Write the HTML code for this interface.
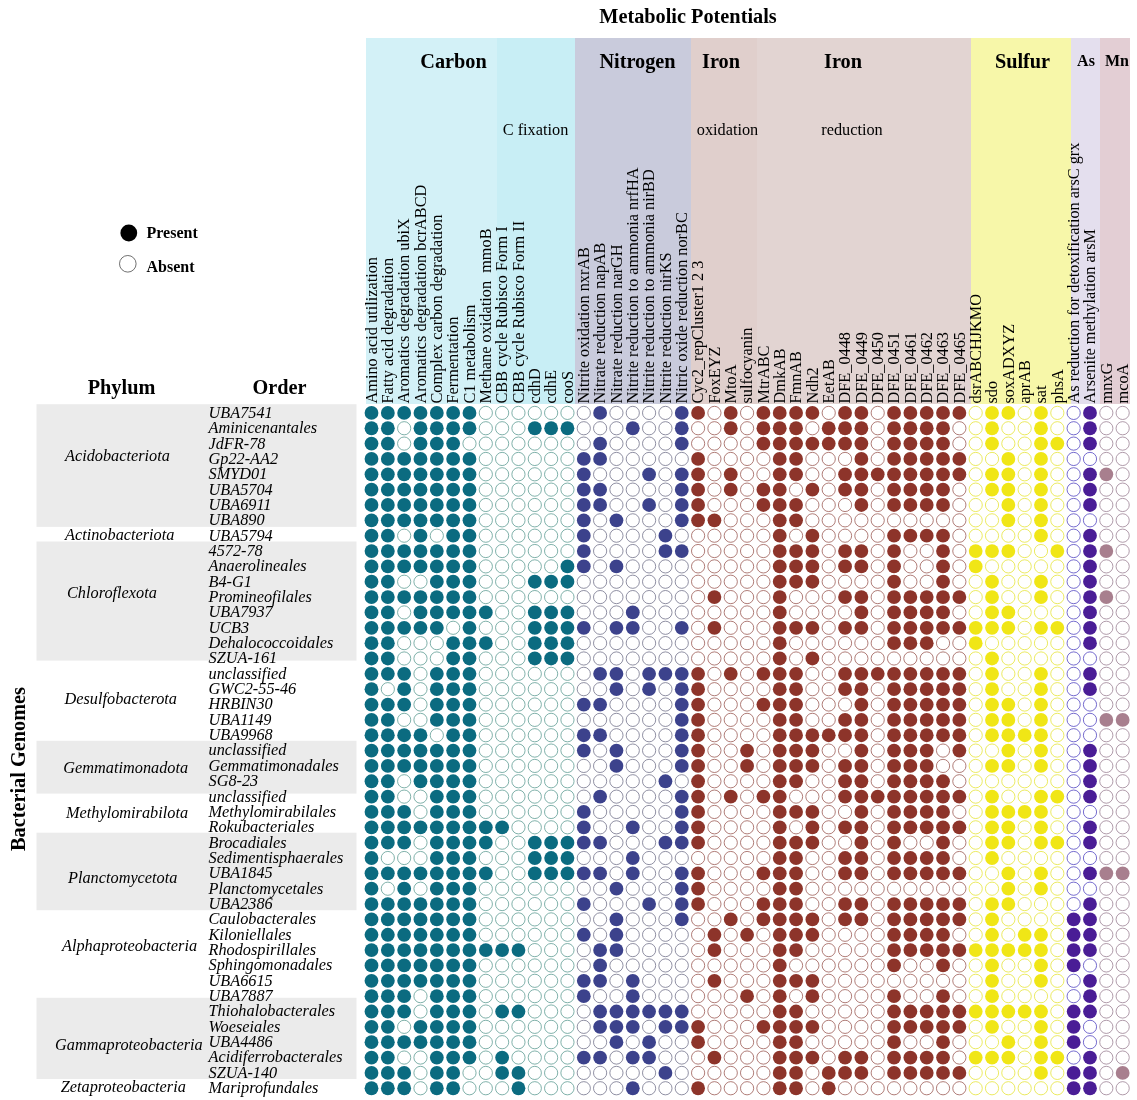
<!DOCTYPE html>
<html><head><meta charset="utf-8"><title>Metabolic Potentials</title>
<style>
html,body{margin:0;padding:0;background:#fff}
svg{display:block}
text{font-family:"Liberation Serif","Times New Roman",serif;fill:#000}
.b{font-weight:bold}
.i{font-style:italic;font-size:16.3px}
.c{font-size:16.3px}
.h{font-weight:bold;font-size:20.3px}
</style></head><body>
<svg width="1137" height="1100" viewBox="0 0 1137 1100">
<rect width="1137" height="1100" fill="#fff"/>

<rect x="366" y="38" width="131" height="366" fill="#d3f1f7"/>
<rect x="497" y="38" width="78" height="366" fill="#c8eef5"/>
<rect x="575" y="38" width="116" height="366" fill="#c9cbdc"/>
<rect x="691" y="38" width="66" height="366" fill="#e0cfcc"/>
<rect x="757" y="38" width="214" height="366" fill="#e2d4d2"/>
<rect x="971" y="38" width="100" height="366" fill="#f7f7a9"/>
<rect x="1071" y="38" width="29" height="366" fill="#e4dfee"/>
<rect x="1100" y="38" width="30" height="366" fill="#e3ced4"/>
<rect x="36.5" y="404.2" width="320" height="122.7" fill="#ebebeb"/>
<rect x="36.5" y="541.5" width="320" height="119.1" fill="#ebebeb"/>
<rect x="36.5" y="740.8" width="320" height="52.8" fill="#ebebeb"/>
<rect x="36.5" y="832.7" width="320" height="77.5" fill="#ebebeb"/>
<rect x="36.5" y="997.8" width="320" height="81.2" fill="#ebebeb"/>
<text class="h" x="688" y="23" text-anchor="middle">Metabolic Potentials</text>
<text class="h" x="453.5" y="67.5" text-anchor="middle">Carbon</text>
<text class="h" x="637.5" y="67.5" text-anchor="middle">Nitrogen</text>
<text class="h" x="721" y="67.5" text-anchor="middle">Iron</text>
<text class="h" x="843" y="67.5" text-anchor="middle">Iron</text>
<text class="h" x="1022.5" y="67.5" text-anchor="middle">Sulfur</text>
<text class="b" font-size="16" x="1086" y="66" text-anchor="middle">As</text>
<text class="b" font-size="16" x="1117" y="66" text-anchor="middle">Mn</text>
<text class="c" x="535.5" y="135" text-anchor="middle">C fixation</text>
<text class="c" x="727.5" y="135" text-anchor="middle">oxidation</text>
<text class="c" x="852" y="135" text-anchor="middle">reduction</text>
<circle cx="128.8" cy="233" r="8.4" fill="#000"/>
<circle cx="127.8" cy="263.8" r="8.3" fill="#fff" stroke="#333" stroke-width="0.7"/>
<text class="b" font-size="16" x="146.5" y="238.2">Present</text>
<text class="b" font-size="16" x="146.5" y="271.5">Absent</text>
<text class="h" x="121.5" y="394" text-anchor="middle">Phylum</text>
<text class="h" x="279.5" y="394" text-anchor="middle">Order</text>
<text class="h" transform="translate(25,769) rotate(-90)" text-anchor="middle">Bacterial Genomes</text>
<text class="c" transform="translate(376.70,403.5) rotate(-90)">Amino acid utilization</text>
<text class="c" transform="translate(393.03,403.5) rotate(-90)">Fatty acid degradation</text>
<text class="c" transform="translate(409.36,403.5) rotate(-90)">Aromatics degradation ubiX</text>
<text class="c" transform="translate(425.69,403.5) rotate(-90)">Aromatics degradation bcrABCD</text>
<text class="c" transform="translate(442.02,403.5) rotate(-90)">Complex carbon degradation</text>
<text class="c" transform="translate(458.35,403.5) rotate(-90)">Fermentation</text>
<text class="c" transform="translate(474.68,403.5) rotate(-90)">C1 metabolism</text>
<text class="c" transform="translate(491.01,403.5) rotate(-90)">Methane oxidation  mmoB</text>
<text class="c" transform="translate(507.33,403.5) rotate(-90)">CBB cycle Rubisco Form I</text>
<text class="c" transform="translate(523.66,403.5) rotate(-90)">CBB cycle Rubisco Form II</text>
<text class="c" transform="translate(539.99,403.5) rotate(-90)">cdhD</text>
<text class="c" transform="translate(556.32,403.5) rotate(-90)">cdhE</text>
<text class="c" transform="translate(572.65,403.5) rotate(-90)">cooS</text>
<text class="c" transform="translate(588.98,403.5) rotate(-90)">Nitrite oxidation nxrAB</text>
<text class="c" transform="translate(605.31,403.5) rotate(-90)">Nitrate reduction napAB</text>
<text class="c" transform="translate(621.64,403.5) rotate(-90)">Nitrate reduction narGH</text>
<text class="c" transform="translate(637.97,403.5) rotate(-90)">Nitrite reduction to ammonia nrfHA</text>
<text class="c" transform="translate(654.30,403.5) rotate(-90)">Nitrite reduction to ammonia nirBD</text>
<text class="c" transform="translate(670.63,403.5) rotate(-90)">Nitrite reduction nirKS</text>
<text class="c" transform="translate(686.96,403.5) rotate(-90)">Nitric oxide reduction norBC</text>
<text class="c" transform="translate(703.29,403.5) rotate(-90)">Cyc2_repCluster1 2 3</text>
<text class="c" transform="translate(719.62,403.5) rotate(-90)">FoxEYZ</text>
<text class="c" transform="translate(735.95,403.5) rotate(-90)">MtoA</text>
<text class="c" transform="translate(752.28,403.5) rotate(-90)">sulfocyanin</text>
<text class="c" transform="translate(768.60,403.5) rotate(-90)">MtrABC</text>
<text class="c" transform="translate(784.93,403.5) rotate(-90)">DmkAB</text>
<text class="c" transform="translate(801.26,403.5) rotate(-90)">FmnAB</text>
<text class="c" transform="translate(817.59,403.5) rotate(-90)">Ndh2</text>
<text class="c" transform="translate(833.92,403.5) rotate(-90)">EetAB</text>
<text class="c" transform="translate(850.25,403.5) rotate(-90)">DFE_0448</text>
<text class="c" transform="translate(866.58,403.5) rotate(-90)">DFE_0449</text>
<text class="c" transform="translate(882.91,403.5) rotate(-90)">DFE_0450</text>
<text class="c" transform="translate(899.24,403.5) rotate(-90)">DFE_0451</text>
<text class="c" transform="translate(915.57,403.5) rotate(-90)">DFE_0461</text>
<text class="c" transform="translate(931.90,403.5) rotate(-90)">DFE_0462</text>
<text class="c" transform="translate(948.23,403.5) rotate(-90)">DFE_0463</text>
<text class="c" transform="translate(964.56,403.5) rotate(-90)">DFE_0465</text>
<text class="c" transform="translate(980.89,403.5) rotate(-90)">dsrABCHJKMO</text>
<text class="c" transform="translate(997.22,403.5) rotate(-90)">sdo</text>
<text class="c" transform="translate(1013.54,403.5) rotate(-90)">soxADXYZ</text>
<text class="c" transform="translate(1029.87,403.5) rotate(-90)">aprAB</text>
<text class="c" transform="translate(1046.20,403.5) rotate(-90)">sat</text>
<text class="c" transform="translate(1062.53,403.5) rotate(-90)">phsA</text>
<text class="c" transform="translate(1078.86,403.5) rotate(-90)">As reduction for detoxification arsC grx</text>
<text class="c" transform="translate(1095.19,403.5) rotate(-90)">Arsenite methylation arsM</text>
<text class="c" transform="translate(1111.52,403.5) rotate(-90)">mnxG</text>
<text class="c" transform="translate(1127.85,403.5) rotate(-90)">mcoA</text>
<text class="i" x="208.5" y="417.80">UBA7541</text>
<text class="i" x="208.5" y="433.15">Aminicenantales</text>
<text class="i" x="208.5" y="448.50">JdFR-78</text>
<text class="i" x="208.5" y="463.85">Gp22-AA2</text>
<text class="i" x="208.5" y="479.20">SMYD01</text>
<text class="i" x="208.5" y="494.54">UBA5704</text>
<text class="i" x="208.5" y="509.89">UBA6911</text>
<text class="i" x="208.5" y="525.24">UBA890</text>
<text class="i" x="208.5" y="540.59">UBA5794</text>
<text class="i" x="208.5" y="555.94">4572-78</text>
<text class="i" x="208.5" y="571.29">Anaerolineales</text>
<text class="i" x="208.5" y="586.64">B4-G1</text>
<text class="i" x="208.5" y="601.99">Promineofilales</text>
<text class="i" x="208.5" y="617.34">UBA7937</text>
<text class="i" x="208.5" y="632.68">UCB3</text>
<text class="i" x="208.5" y="648.03">Dehalococcoidales</text>
<text class="i" x="208.5" y="663.38">SZUA-161</text>
<text class="i" x="208.5" y="678.73">unclassified</text>
<text class="i" x="208.5" y="694.08">GWC2-55-46</text>
<text class="i" x="208.5" y="709.43">HRBIN30</text>
<text class="i" x="208.5" y="724.78">UBA1149</text>
<text class="i" x="208.5" y="740.13">UBA9968</text>
<text class="i" x="208.5" y="755.48">unclassified</text>
<text class="i" x="208.5" y="770.82">Gemmatimonadales</text>
<text class="i" x="208.5" y="786.17">SG8-23</text>
<text class="i" x="208.5" y="801.52">unclassified</text>
<text class="i" x="208.5" y="816.87">Methylomirabilales</text>
<text class="i" x="208.5" y="832.22">Rokubacteriales</text>
<text class="i" x="208.5" y="847.57">Brocadiales</text>
<text class="i" x="208.5" y="862.92">Sedimentisphaerales</text>
<text class="i" x="208.5" y="878.27">UBA1845</text>
<text class="i" x="208.5" y="893.61">Planctomycetales</text>
<text class="i" x="208.5" y="908.96">UBA2386</text>
<text class="i" x="208.5" y="924.31">Caulobacterales</text>
<text class="i" x="208.5" y="939.66">Kiloniellales</text>
<text class="i" x="208.5" y="955.01">Rhodospirillales</text>
<text class="i" x="208.5" y="970.36">Sphingomonadales</text>
<text class="i" x="208.5" y="985.71">UBA6615</text>
<text class="i" x="208.5" y="1001.06">UBA7887</text>
<text class="i" x="208.5" y="1016.41">Thiohalobacterales</text>
<text class="i" x="208.5" y="1031.75">Woeseiales</text>
<text class="i" x="208.5" y="1047.10">UBA4486</text>
<text class="i" x="208.5" y="1062.45">Acidiferrobacterales</text>
<text class="i" x="208.5" y="1077.80">SZUA-140</text>
<text class="i" x="208.5" y="1093.15">Mariprofundales</text>
<text class="i" x="65" y="461.1">Acidobacteriota</text>
<text class="i" x="65" y="539.9">Actinobacteriota</text>
<text class="i" x="67" y="597.8">Chloroflexota</text>
<text class="i" x="64.5" y="704.4">Desulfobacterota</text>
<text class="i" x="63.3" y="772.7">Gemmatimonadota</text>
<text class="i" x="66" y="817.6">Methylomirabilota</text>
<text class="i" x="68" y="882.8">Planctomycetota</text>
<text class="i" x="62" y="951">Alphaproteobacteria</text>
<text class="i" x="55" y="1050">Gammaproteobacteria</text>
<text class="i" x="60.7" y="1092.4">Zetaproteobacteria</text>
<g fill="#0b6b80"><circle cx="371.50" cy="412.90" r="6.9"/><circle cx="387.83" cy="412.90" r="6.9"/><circle cx="404.16" cy="412.90" r="6.9"/><circle cx="420.49" cy="412.90" r="6.9"/><circle cx="436.82" cy="412.90" r="6.9"/><circle cx="453.15" cy="412.90" r="6.9"/><circle cx="469.48" cy="412.90" r="6.9"/><circle cx="371.50" cy="428.25" r="6.9"/><circle cx="387.83" cy="428.25" r="6.9"/><circle cx="420.49" cy="428.25" r="6.9"/><circle cx="436.82" cy="428.25" r="6.9"/><circle cx="453.15" cy="428.25" r="6.9"/><circle cx="469.48" cy="428.25" r="6.9"/><circle cx="534.79" cy="428.25" r="6.9"/><circle cx="551.12" cy="428.25" r="6.9"/><circle cx="567.45" cy="428.25" r="6.9"/><circle cx="371.50" cy="443.60" r="6.9"/><circle cx="387.83" cy="443.60" r="6.9"/><circle cx="420.49" cy="443.60" r="6.9"/><circle cx="436.82" cy="443.60" r="6.9"/><circle cx="453.15" cy="443.60" r="6.9"/><circle cx="371.50" cy="458.95" r="6.9"/><circle cx="387.83" cy="458.95" r="6.9"/><circle cx="404.16" cy="458.95" r="6.9"/><circle cx="420.49" cy="458.95" r="6.9"/><circle cx="436.82" cy="458.95" r="6.9"/><circle cx="453.15" cy="458.95" r="6.9"/><circle cx="469.48" cy="458.95" r="6.9"/><circle cx="371.50" cy="474.30" r="6.9"/><circle cx="387.83" cy="474.30" r="6.9"/><circle cx="404.16" cy="474.30" r="6.9"/><circle cx="420.49" cy="474.30" r="6.9"/><circle cx="436.82" cy="474.30" r="6.9"/><circle cx="453.15" cy="474.30" r="6.9"/><circle cx="469.48" cy="474.30" r="6.9"/><circle cx="371.50" cy="489.64" r="6.9"/><circle cx="387.83" cy="489.64" r="6.9"/><circle cx="404.16" cy="489.64" r="6.9"/><circle cx="420.49" cy="489.64" r="6.9"/><circle cx="436.82" cy="489.64" r="6.9"/><circle cx="453.15" cy="489.64" r="6.9"/><circle cx="469.48" cy="489.64" r="6.9"/><circle cx="371.50" cy="504.99" r="6.9"/><circle cx="387.83" cy="504.99" r="6.9"/><circle cx="404.16" cy="504.99" r="6.9"/><circle cx="420.49" cy="504.99" r="6.9"/><circle cx="436.82" cy="504.99" r="6.9"/><circle cx="453.15" cy="504.99" r="6.9"/><circle cx="469.48" cy="504.99" r="6.9"/><circle cx="371.50" cy="520.34" r="6.9"/><circle cx="387.83" cy="520.34" r="6.9"/><circle cx="404.16" cy="520.34" r="6.9"/><circle cx="420.49" cy="520.34" r="6.9"/><circle cx="436.82" cy="520.34" r="6.9"/><circle cx="453.15" cy="520.34" r="6.9"/><circle cx="469.48" cy="520.34" r="6.9"/><circle cx="371.50" cy="535.69" r="6.9"/><circle cx="387.83" cy="535.69" r="6.9"/><circle cx="420.49" cy="535.69" r="6.9"/><circle cx="453.15" cy="535.69" r="6.9"/><circle cx="469.48" cy="535.69" r="6.9"/><circle cx="371.50" cy="551.04" r="6.9"/><circle cx="387.83" cy="551.04" r="6.9"/><circle cx="404.16" cy="551.04" r="6.9"/><circle cx="420.49" cy="551.04" r="6.9"/><circle cx="436.82" cy="551.04" r="6.9"/><circle cx="453.15" cy="551.04" r="6.9"/><circle cx="469.48" cy="551.04" r="6.9"/><circle cx="371.50" cy="566.39" r="6.9"/><circle cx="387.83" cy="566.39" r="6.9"/><circle cx="404.16" cy="566.39" r="6.9"/><circle cx="420.49" cy="566.39" r="6.9"/><circle cx="436.82" cy="566.39" r="6.9"/><circle cx="453.15" cy="566.39" r="6.9"/><circle cx="469.48" cy="566.39" r="6.9"/><circle cx="567.45" cy="566.39" r="6.9"/><circle cx="371.50" cy="581.74" r="6.9"/><circle cx="387.83" cy="581.74" r="6.9"/><circle cx="436.82" cy="581.74" r="6.9"/><circle cx="453.15" cy="581.74" r="6.9"/><circle cx="469.48" cy="581.74" r="6.9"/><circle cx="534.79" cy="581.74" r="6.9"/><circle cx="551.12" cy="581.74" r="6.9"/><circle cx="567.45" cy="581.74" r="6.9"/><circle cx="371.50" cy="597.09" r="6.9"/><circle cx="387.83" cy="597.09" r="6.9"/><circle cx="404.16" cy="597.09" r="6.9"/><circle cx="420.49" cy="597.09" r="6.9"/><circle cx="436.82" cy="597.09" r="6.9"/><circle cx="453.15" cy="597.09" r="6.9"/><circle cx="469.48" cy="597.09" r="6.9"/><circle cx="371.50" cy="612.44" r="6.9"/><circle cx="387.83" cy="612.44" r="6.9"/><circle cx="420.49" cy="612.44" r="6.9"/><circle cx="436.82" cy="612.44" r="6.9"/><circle cx="453.15" cy="612.44" r="6.9"/><circle cx="469.48" cy="612.44" r="6.9"/><circle cx="485.81" cy="612.44" r="6.9"/><circle cx="534.79" cy="612.44" r="6.9"/><circle cx="551.12" cy="612.44" r="6.9"/><circle cx="567.45" cy="612.44" r="6.9"/><circle cx="371.50" cy="627.78" r="6.9"/><circle cx="387.83" cy="627.78" r="6.9"/><circle cx="404.16" cy="627.78" r="6.9"/><circle cx="420.49" cy="627.78" r="6.9"/><circle cx="436.82" cy="627.78" r="6.9"/><circle cx="469.48" cy="627.78" r="6.9"/><circle cx="534.79" cy="627.78" r="6.9"/><circle cx="551.12" cy="627.78" r="6.9"/><circle cx="567.45" cy="627.78" r="6.9"/><circle cx="371.50" cy="643.13" r="6.9"/><circle cx="387.83" cy="643.13" r="6.9"/><circle cx="453.15" cy="643.13" r="6.9"/><circle cx="469.48" cy="643.13" r="6.9"/><circle cx="485.81" cy="643.13" r="6.9"/><circle cx="534.79" cy="643.13" r="6.9"/><circle cx="551.12" cy="643.13" r="6.9"/><circle cx="567.45" cy="643.13" r="6.9"/><circle cx="371.50" cy="658.48" r="6.9"/><circle cx="387.83" cy="658.48" r="6.9"/><circle cx="453.15" cy="658.48" r="6.9"/><circle cx="469.48" cy="658.48" r="6.9"/><circle cx="534.79" cy="658.48" r="6.9"/><circle cx="551.12" cy="658.48" r="6.9"/><circle cx="567.45" cy="658.48" r="6.9"/><circle cx="371.50" cy="673.83" r="6.9"/><circle cx="387.83" cy="673.83" r="6.9"/><circle cx="404.16" cy="673.83" r="6.9"/><circle cx="436.82" cy="673.83" r="6.9"/><circle cx="453.15" cy="673.83" r="6.9"/><circle cx="469.48" cy="673.83" r="6.9"/><circle cx="371.50" cy="689.18" r="6.9"/><circle cx="404.16" cy="689.18" r="6.9"/><circle cx="436.82" cy="689.18" r="6.9"/><circle cx="453.15" cy="689.18" r="6.9"/><circle cx="469.48" cy="689.18" r="6.9"/><circle cx="371.50" cy="704.53" r="6.9"/><circle cx="387.83" cy="704.53" r="6.9"/><circle cx="404.16" cy="704.53" r="6.9"/><circle cx="436.82" cy="704.53" r="6.9"/><circle cx="453.15" cy="704.53" r="6.9"/><circle cx="469.48" cy="704.53" r="6.9"/><circle cx="371.50" cy="719.88" r="6.9"/><circle cx="387.83" cy="719.88" r="6.9"/><circle cx="436.82" cy="719.88" r="6.9"/><circle cx="453.15" cy="719.88" r="6.9"/><circle cx="469.48" cy="719.88" r="6.9"/><circle cx="371.50" cy="735.23" r="6.9"/><circle cx="387.83" cy="735.23" r="6.9"/><circle cx="404.16" cy="735.23" r="6.9"/><circle cx="420.49" cy="735.23" r="6.9"/><circle cx="453.15" cy="735.23" r="6.9"/><circle cx="469.48" cy="735.23" r="6.9"/><circle cx="371.50" cy="750.58" r="6.9"/><circle cx="387.83" cy="750.58" r="6.9"/><circle cx="404.16" cy="750.58" r="6.9"/><circle cx="420.49" cy="750.58" r="6.9"/><circle cx="436.82" cy="750.58" r="6.9"/><circle cx="453.15" cy="750.58" r="6.9"/><circle cx="469.48" cy="750.58" r="6.9"/><circle cx="371.50" cy="765.92" r="6.9"/><circle cx="387.83" cy="765.92" r="6.9"/><circle cx="404.16" cy="765.92" r="6.9"/><circle cx="420.49" cy="765.92" r="6.9"/><circle cx="436.82" cy="765.92" r="6.9"/><circle cx="453.15" cy="765.92" r="6.9"/><circle cx="469.48" cy="765.92" r="6.9"/><circle cx="371.50" cy="781.27" r="6.9"/><circle cx="387.83" cy="781.27" r="6.9"/><circle cx="420.49" cy="781.27" r="6.9"/><circle cx="436.82" cy="781.27" r="6.9"/><circle cx="453.15" cy="781.27" r="6.9"/><circle cx="469.48" cy="781.27" r="6.9"/><circle cx="371.50" cy="796.62" r="6.9"/><circle cx="387.83" cy="796.62" r="6.9"/><circle cx="436.82" cy="796.62" r="6.9"/><circle cx="453.15" cy="796.62" r="6.9"/><circle cx="469.48" cy="796.62" r="6.9"/><circle cx="371.50" cy="811.97" r="6.9"/><circle cx="387.83" cy="811.97" r="6.9"/><circle cx="404.16" cy="811.97" r="6.9"/><circle cx="436.82" cy="811.97" r="6.9"/><circle cx="453.15" cy="811.97" r="6.9"/><circle cx="469.48" cy="811.97" r="6.9"/><circle cx="371.50" cy="827.32" r="6.9"/><circle cx="387.83" cy="827.32" r="6.9"/><circle cx="404.16" cy="827.32" r="6.9"/><circle cx="420.49" cy="827.32" r="6.9"/><circle cx="436.82" cy="827.32" r="6.9"/><circle cx="453.15" cy="827.32" r="6.9"/><circle cx="469.48" cy="827.32" r="6.9"/><circle cx="485.81" cy="827.32" r="6.9"/><circle cx="502.13" cy="827.32" r="6.9"/><circle cx="371.50" cy="842.67" r="6.9"/><circle cx="387.83" cy="842.67" r="6.9"/><circle cx="404.16" cy="842.67" r="6.9"/><circle cx="436.82" cy="842.67" r="6.9"/><circle cx="453.15" cy="842.67" r="6.9"/><circle cx="469.48" cy="842.67" r="6.9"/><circle cx="485.81" cy="842.67" r="6.9"/><circle cx="534.79" cy="842.67" r="6.9"/><circle cx="551.12" cy="842.67" r="6.9"/><circle cx="567.45" cy="842.67" r="6.9"/><circle cx="371.50" cy="858.02" r="6.9"/><circle cx="436.82" cy="858.02" r="6.9"/><circle cx="453.15" cy="858.02" r="6.9"/><circle cx="469.48" cy="858.02" r="6.9"/><circle cx="534.79" cy="858.02" r="6.9"/><circle cx="551.12" cy="858.02" r="6.9"/><circle cx="567.45" cy="858.02" r="6.9"/><circle cx="371.50" cy="873.37" r="6.9"/><circle cx="387.83" cy="873.37" r="6.9"/><circle cx="404.16" cy="873.37" r="6.9"/><circle cx="420.49" cy="873.37" r="6.9"/><circle cx="436.82" cy="873.37" r="6.9"/><circle cx="453.15" cy="873.37" r="6.9"/><circle cx="469.48" cy="873.37" r="6.9"/><circle cx="485.81" cy="873.37" r="6.9"/><circle cx="534.79" cy="873.37" r="6.9"/><circle cx="551.12" cy="873.37" r="6.9"/><circle cx="567.45" cy="873.37" r="6.9"/><circle cx="371.50" cy="888.71" r="6.9"/><circle cx="404.16" cy="888.71" r="6.9"/><circle cx="436.82" cy="888.71" r="6.9"/><circle cx="453.15" cy="888.71" r="6.9"/><circle cx="469.48" cy="888.71" r="6.9"/><circle cx="371.50" cy="904.06" r="6.9"/><circle cx="387.83" cy="904.06" r="6.9"/><circle cx="404.16" cy="904.06" r="6.9"/><circle cx="420.49" cy="904.06" r="6.9"/><circle cx="436.82" cy="904.06" r="6.9"/><circle cx="453.15" cy="904.06" r="6.9"/><circle cx="469.48" cy="904.06" r="6.9"/><circle cx="371.50" cy="919.41" r="6.9"/><circle cx="387.83" cy="919.41" r="6.9"/><circle cx="404.16" cy="919.41" r="6.9"/><circle cx="420.49" cy="919.41" r="6.9"/><circle cx="436.82" cy="919.41" r="6.9"/><circle cx="453.15" cy="919.41" r="6.9"/><circle cx="469.48" cy="919.41" r="6.9"/><circle cx="371.50" cy="934.76" r="6.9"/><circle cx="387.83" cy="934.76" r="6.9"/><circle cx="404.16" cy="934.76" r="6.9"/><circle cx="420.49" cy="934.76" r="6.9"/><circle cx="436.82" cy="934.76" r="6.9"/><circle cx="453.15" cy="934.76" r="6.9"/><circle cx="469.48" cy="934.76" r="6.9"/><circle cx="371.50" cy="950.11" r="6.9"/><circle cx="387.83" cy="950.11" r="6.9"/><circle cx="404.16" cy="950.11" r="6.9"/><circle cx="420.49" cy="950.11" r="6.9"/><circle cx="436.82" cy="950.11" r="6.9"/><circle cx="453.15" cy="950.11" r="6.9"/><circle cx="469.48" cy="950.11" r="6.9"/><circle cx="485.81" cy="950.11" r="6.9"/><circle cx="502.13" cy="950.11" r="6.9"/><circle cx="518.46" cy="950.11" r="6.9"/><circle cx="371.50" cy="965.46" r="6.9"/><circle cx="387.83" cy="965.46" r="6.9"/><circle cx="404.16" cy="965.46" r="6.9"/><circle cx="420.49" cy="965.46" r="6.9"/><circle cx="436.82" cy="965.46" r="6.9"/><circle cx="453.15" cy="965.46" r="6.9"/><circle cx="469.48" cy="965.46" r="6.9"/><circle cx="371.50" cy="980.81" r="6.9"/><circle cx="387.83" cy="980.81" r="6.9"/><circle cx="404.16" cy="980.81" r="6.9"/><circle cx="420.49" cy="980.81" r="6.9"/><circle cx="436.82" cy="980.81" r="6.9"/><circle cx="453.15" cy="980.81" r="6.9"/><circle cx="469.48" cy="980.81" r="6.9"/><circle cx="371.50" cy="996.16" r="6.9"/><circle cx="387.83" cy="996.16" r="6.9"/><circle cx="404.16" cy="996.16" r="6.9"/><circle cx="436.82" cy="996.16" r="6.9"/><circle cx="453.15" cy="996.16" r="6.9"/><circle cx="469.48" cy="996.16" r="6.9"/><circle cx="371.50" cy="1011.51" r="6.9"/><circle cx="387.83" cy="1011.51" r="6.9"/><circle cx="404.16" cy="1011.51" r="6.9"/><circle cx="436.82" cy="1011.51" r="6.9"/><circle cx="453.15" cy="1011.51" r="6.9"/><circle cx="469.48" cy="1011.51" r="6.9"/><circle cx="502.13" cy="1011.51" r="6.9"/><circle cx="518.46" cy="1011.51" r="6.9"/><circle cx="371.50" cy="1026.85" r="6.9"/><circle cx="387.83" cy="1026.85" r="6.9"/><circle cx="420.49" cy="1026.85" r="6.9"/><circle cx="436.82" cy="1026.85" r="6.9"/><circle cx="453.15" cy="1026.85" r="6.9"/><circle cx="469.48" cy="1026.85" r="6.9"/><circle cx="371.50" cy="1042.20" r="6.9"/><circle cx="387.83" cy="1042.20" r="6.9"/><circle cx="404.16" cy="1042.20" r="6.9"/><circle cx="420.49" cy="1042.20" r="6.9"/><circle cx="436.82" cy="1042.20" r="6.9"/><circle cx="453.15" cy="1042.20" r="6.9"/><circle cx="469.48" cy="1042.20" r="6.9"/><circle cx="371.50" cy="1057.55" r="6.9"/><circle cx="387.83" cy="1057.55" r="6.9"/><circle cx="436.82" cy="1057.55" r="6.9"/><circle cx="453.15" cy="1057.55" r="6.9"/><circle cx="469.48" cy="1057.55" r="6.9"/><circle cx="502.13" cy="1057.55" r="6.9"/><circle cx="371.50" cy="1072.90" r="6.9"/><circle cx="387.83" cy="1072.90" r="6.9"/><circle cx="404.16" cy="1072.90" r="6.9"/><circle cx="436.82" cy="1072.90" r="6.9"/><circle cx="453.15" cy="1072.90" r="6.9"/><circle cx="502.13" cy="1072.90" r="6.9"/><circle cx="518.46" cy="1072.90" r="6.9"/><circle cx="371.50" cy="1088.25" r="6.9"/><circle cx="387.83" cy="1088.25" r="6.9"/><circle cx="404.16" cy="1088.25" r="6.9"/><circle cx="436.82" cy="1088.25" r="6.9"/><circle cx="453.15" cy="1088.25" r="6.9"/><circle cx="518.46" cy="1088.25" r="6.9"/></g>
<g fill="#fff" stroke="#5f9d94" stroke-width="0.8"><circle cx="485.81" cy="412.90" r="6.6000000000000005"/><circle cx="502.13" cy="412.90" r="6.6000000000000005"/><circle cx="518.46" cy="412.90" r="6.6000000000000005"/><circle cx="534.79" cy="412.90" r="6.6000000000000005"/><circle cx="551.12" cy="412.90" r="6.6000000000000005"/><circle cx="567.45" cy="412.90" r="6.6000000000000005"/><circle cx="404.16" cy="428.25" r="6.6000000000000005"/><circle cx="485.81" cy="428.25" r="6.6000000000000005"/><circle cx="502.13" cy="428.25" r="6.6000000000000005"/><circle cx="518.46" cy="428.25" r="6.6000000000000005"/><circle cx="404.16" cy="443.60" r="6.6000000000000005"/><circle cx="469.48" cy="443.60" r="6.6000000000000005"/><circle cx="485.81" cy="443.60" r="6.6000000000000005"/><circle cx="502.13" cy="443.60" r="6.6000000000000005"/><circle cx="518.46" cy="443.60" r="6.6000000000000005"/><circle cx="534.79" cy="443.60" r="6.6000000000000005"/><circle cx="551.12" cy="443.60" r="6.6000000000000005"/><circle cx="567.45" cy="443.60" r="6.6000000000000005"/><circle cx="485.81" cy="458.95" r="6.6000000000000005"/><circle cx="502.13" cy="458.95" r="6.6000000000000005"/><circle cx="518.46" cy="458.95" r="6.6000000000000005"/><circle cx="534.79" cy="458.95" r="6.6000000000000005"/><circle cx="551.12" cy="458.95" r="6.6000000000000005"/><circle cx="567.45" cy="458.95" r="6.6000000000000005"/><circle cx="485.81" cy="474.30" r="6.6000000000000005"/><circle cx="502.13" cy="474.30" r="6.6000000000000005"/><circle cx="518.46" cy="474.30" r="6.6000000000000005"/><circle cx="534.79" cy="474.30" r="6.6000000000000005"/><circle cx="551.12" cy="474.30" r="6.6000000000000005"/><circle cx="567.45" cy="474.30" r="6.6000000000000005"/><circle cx="485.81" cy="489.64" r="6.6000000000000005"/><circle cx="502.13" cy="489.64" r="6.6000000000000005"/><circle cx="518.46" cy="489.64" r="6.6000000000000005"/><circle cx="534.79" cy="489.64" r="6.6000000000000005"/><circle cx="551.12" cy="489.64" r="6.6000000000000005"/><circle cx="567.45" cy="489.64" r="6.6000000000000005"/><circle cx="485.81" cy="504.99" r="6.6000000000000005"/><circle cx="502.13" cy="504.99" r="6.6000000000000005"/><circle cx="518.46" cy="504.99" r="6.6000000000000005"/><circle cx="534.79" cy="504.99" r="6.6000000000000005"/><circle cx="551.12" cy="504.99" r="6.6000000000000005"/><circle cx="567.45" cy="504.99" r="6.6000000000000005"/><circle cx="485.81" cy="520.34" r="6.6000000000000005"/><circle cx="502.13" cy="520.34" r="6.6000000000000005"/><circle cx="518.46" cy="520.34" r="6.6000000000000005"/><circle cx="534.79" cy="520.34" r="6.6000000000000005"/><circle cx="551.12" cy="520.34" r="6.6000000000000005"/><circle cx="567.45" cy="520.34" r="6.6000000000000005"/><circle cx="404.16" cy="535.69" r="6.6000000000000005"/><circle cx="436.82" cy="535.69" r="6.6000000000000005"/><circle cx="485.81" cy="535.69" r="6.6000000000000005"/><circle cx="502.13" cy="535.69" r="6.6000000000000005"/><circle cx="518.46" cy="535.69" r="6.6000000000000005"/><circle cx="534.79" cy="535.69" r="6.6000000000000005"/><circle cx="551.12" cy="535.69" r="6.6000000000000005"/><circle cx="567.45" cy="535.69" r="6.6000000000000005"/><circle cx="485.81" cy="551.04" r="6.6000000000000005"/><circle cx="502.13" cy="551.04" r="6.6000000000000005"/><circle cx="518.46" cy="551.04" r="6.6000000000000005"/><circle cx="534.79" cy="551.04" r="6.6000000000000005"/><circle cx="551.12" cy="551.04" r="6.6000000000000005"/><circle cx="567.45" cy="551.04" r="6.6000000000000005"/><circle cx="485.81" cy="566.39" r="6.6000000000000005"/><circle cx="502.13" cy="566.39" r="6.6000000000000005"/><circle cx="518.46" cy="566.39" r="6.6000000000000005"/><circle cx="534.79" cy="566.39" r="6.6000000000000005"/><circle cx="551.12" cy="566.39" r="6.6000000000000005"/><circle cx="404.16" cy="581.74" r="6.6000000000000005"/><circle cx="420.49" cy="581.74" r="6.6000000000000005"/><circle cx="485.81" cy="581.74" r="6.6000000000000005"/><circle cx="502.13" cy="581.74" r="6.6000000000000005"/><circle cx="518.46" cy="581.74" r="6.6000000000000005"/><circle cx="485.81" cy="597.09" r="6.6000000000000005"/><circle cx="502.13" cy="597.09" r="6.6000000000000005"/><circle cx="518.46" cy="597.09" r="6.6000000000000005"/><circle cx="534.79" cy="597.09" r="6.6000000000000005"/><circle cx="551.12" cy="597.09" r="6.6000000000000005"/><circle cx="567.45" cy="597.09" r="6.6000000000000005"/><circle cx="404.16" cy="612.44" r="6.6000000000000005"/><circle cx="502.13" cy="612.44" r="6.6000000000000005"/><circle cx="518.46" cy="612.44" r="6.6000000000000005"/><circle cx="453.15" cy="627.78" r="6.6000000000000005"/><circle cx="485.81" cy="627.78" r="6.6000000000000005"/><circle cx="502.13" cy="627.78" r="6.6000000000000005"/><circle cx="518.46" cy="627.78" r="6.6000000000000005"/><circle cx="404.16" cy="643.13" r="6.6000000000000005"/><circle cx="420.49" cy="643.13" r="6.6000000000000005"/><circle cx="436.82" cy="643.13" r="6.6000000000000005"/><circle cx="502.13" cy="643.13" r="6.6000000000000005"/><circle cx="518.46" cy="643.13" r="6.6000000000000005"/><circle cx="404.16" cy="658.48" r="6.6000000000000005"/><circle cx="420.49" cy="658.48" r="6.6000000000000005"/><circle cx="436.82" cy="658.48" r="6.6000000000000005"/><circle cx="485.81" cy="658.48" r="6.6000000000000005"/><circle cx="502.13" cy="658.48" r="6.6000000000000005"/><circle cx="518.46" cy="658.48" r="6.6000000000000005"/><circle cx="420.49" cy="673.83" r="6.6000000000000005"/><circle cx="485.81" cy="673.83" r="6.6000000000000005"/><circle cx="502.13" cy="673.83" r="6.6000000000000005"/><circle cx="518.46" cy="673.83" r="6.6000000000000005"/><circle cx="534.79" cy="673.83" r="6.6000000000000005"/><circle cx="551.12" cy="673.83" r="6.6000000000000005"/><circle cx="567.45" cy="673.83" r="6.6000000000000005"/><circle cx="387.83" cy="689.18" r="6.6000000000000005"/><circle cx="420.49" cy="689.18" r="6.6000000000000005"/><circle cx="485.81" cy="689.18" r="6.6000000000000005"/><circle cx="502.13" cy="689.18" r="6.6000000000000005"/><circle cx="518.46" cy="689.18" r="6.6000000000000005"/><circle cx="534.79" cy="689.18" r="6.6000000000000005"/><circle cx="551.12" cy="689.18" r="6.6000000000000005"/><circle cx="567.45" cy="689.18" r="6.6000000000000005"/><circle cx="420.49" cy="704.53" r="6.6000000000000005"/><circle cx="485.81" cy="704.53" r="6.6000000000000005"/><circle cx="502.13" cy="704.53" r="6.6000000000000005"/><circle cx="518.46" cy="704.53" r="6.6000000000000005"/><circle cx="534.79" cy="704.53" r="6.6000000000000005"/><circle cx="551.12" cy="704.53" r="6.6000000000000005"/><circle cx="567.45" cy="704.53" r="6.6000000000000005"/><circle cx="404.16" cy="719.88" r="6.6000000000000005"/><circle cx="420.49" cy="719.88" r="6.6000000000000005"/><circle cx="485.81" cy="719.88" r="6.6000000000000005"/><circle cx="502.13" cy="719.88" r="6.6000000000000005"/><circle cx="518.46" cy="719.88" r="6.6000000000000005"/><circle cx="534.79" cy="719.88" r="6.6000000000000005"/><circle cx="551.12" cy="719.88" r="6.6000000000000005"/><circle cx="567.45" cy="719.88" r="6.6000000000000005"/><circle cx="436.82" cy="735.23" r="6.6000000000000005"/><circle cx="485.81" cy="735.23" r="6.6000000000000005"/><circle cx="502.13" cy="735.23" r="6.6000000000000005"/><circle cx="518.46" cy="735.23" r="6.6000000000000005"/><circle cx="534.79" cy="735.23" r="6.6000000000000005"/><circle cx="551.12" cy="735.23" r="6.6000000000000005"/><circle cx="567.45" cy="735.23" r="6.6000000000000005"/><circle cx="485.81" cy="750.58" r="6.6000000000000005"/><circle cx="502.13" cy="750.58" r="6.6000000000000005"/><circle cx="518.46" cy="750.58" r="6.6000000000000005"/><circle cx="534.79" cy="750.58" r="6.6000000000000005"/><circle cx="551.12" cy="750.58" r="6.6000000000000005"/><circle cx="567.45" cy="750.58" r="6.6000000000000005"/><circle cx="485.81" cy="765.92" r="6.6000000000000005"/><circle cx="502.13" cy="765.92" r="6.6000000000000005"/><circle cx="518.46" cy="765.92" r="6.6000000000000005"/><circle cx="534.79" cy="765.92" r="6.6000000000000005"/><circle cx="551.12" cy="765.92" r="6.6000000000000005"/><circle cx="567.45" cy="765.92" r="6.6000000000000005"/><circle cx="404.16" cy="781.27" r="6.6000000000000005"/><circle cx="485.81" cy="781.27" r="6.6000000000000005"/><circle cx="502.13" cy="781.27" r="6.6000000000000005"/><circle cx="518.46" cy="781.27" r="6.6000000000000005"/><circle cx="534.79" cy="781.27" r="6.6000000000000005"/><circle cx="551.12" cy="781.27" r="6.6000000000000005"/><circle cx="567.45" cy="781.27" r="6.6000000000000005"/><circle cx="404.16" cy="796.62" r="6.6000000000000005"/><circle cx="420.49" cy="796.62" r="6.6000000000000005"/><circle cx="485.81" cy="796.62" r="6.6000000000000005"/><circle cx="502.13" cy="796.62" r="6.6000000000000005"/><circle cx="518.46" cy="796.62" r="6.6000000000000005"/><circle cx="534.79" cy="796.62" r="6.6000000000000005"/><circle cx="551.12" cy="796.62" r="6.6000000000000005"/><circle cx="567.45" cy="796.62" r="6.6000000000000005"/><circle cx="420.49" cy="811.97" r="6.6000000000000005"/><circle cx="485.81" cy="811.97" r="6.6000000000000005"/><circle cx="502.13" cy="811.97" r="6.6000000000000005"/><circle cx="518.46" cy="811.97" r="6.6000000000000005"/><circle cx="534.79" cy="811.97" r="6.6000000000000005"/><circle cx="551.12" cy="811.97" r="6.6000000000000005"/><circle cx="567.45" cy="811.97" r="6.6000000000000005"/><circle cx="518.46" cy="827.32" r="6.6000000000000005"/><circle cx="534.79" cy="827.32" r="6.6000000000000005"/><circle cx="551.12" cy="827.32" r="6.6000000000000005"/><circle cx="567.45" cy="827.32" r="6.6000000000000005"/><circle cx="420.49" cy="842.67" r="6.6000000000000005"/><circle cx="502.13" cy="842.67" r="6.6000000000000005"/><circle cx="518.46" cy="842.67" r="6.6000000000000005"/><circle cx="387.83" cy="858.02" r="6.6000000000000005"/><circle cx="404.16" cy="858.02" r="6.6000000000000005"/><circle cx="420.49" cy="858.02" r="6.6000000000000005"/><circle cx="485.81" cy="858.02" r="6.6000000000000005"/><circle cx="502.13" cy="858.02" r="6.6000000000000005"/><circle cx="518.46" cy="858.02" r="6.6000000000000005"/><circle cx="502.13" cy="873.37" r="6.6000000000000005"/><circle cx="518.46" cy="873.37" r="6.6000000000000005"/><circle cx="387.83" cy="888.71" r="6.6000000000000005"/><circle cx="420.49" cy="888.71" r="6.6000000000000005"/><circle cx="485.81" cy="888.71" r="6.6000000000000005"/><circle cx="502.13" cy="888.71" r="6.6000000000000005"/><circle cx="518.46" cy="888.71" r="6.6000000000000005"/><circle cx="534.79" cy="888.71" r="6.6000000000000005"/><circle cx="551.12" cy="888.71" r="6.6000000000000005"/><circle cx="567.45" cy="888.71" r="6.6000000000000005"/><circle cx="485.81" cy="904.06" r="6.6000000000000005"/><circle cx="502.13" cy="904.06" r="6.6000000000000005"/><circle cx="518.46" cy="904.06" r="6.6000000000000005"/><circle cx="534.79" cy="904.06" r="6.6000000000000005"/><circle cx="551.12" cy="904.06" r="6.6000000000000005"/><circle cx="567.45" cy="904.06" r="6.6000000000000005"/><circle cx="485.81" cy="919.41" r="6.6000000000000005"/><circle cx="502.13" cy="919.41" r="6.6000000000000005"/><circle cx="518.46" cy="919.41" r="6.6000000000000005"/><circle cx="534.79" cy="919.41" r="6.6000000000000005"/><circle cx="551.12" cy="919.41" r="6.6000000000000005"/><circle cx="567.45" cy="919.41" r="6.6000000000000005"/><circle cx="485.81" cy="934.76" r="6.6000000000000005"/><circle cx="502.13" cy="934.76" r="6.6000000000000005"/><circle cx="518.46" cy="934.76" r="6.6000000000000005"/><circle cx="534.79" cy="934.76" r="6.6000000000000005"/><circle cx="551.12" cy="934.76" r="6.6000000000000005"/><circle cx="567.45" cy="934.76" r="6.6000000000000005"/><circle cx="534.79" cy="950.11" r="6.6000000000000005"/><circle cx="551.12" cy="950.11" r="6.6000000000000005"/><circle cx="567.45" cy="950.11" r="6.6000000000000005"/><circle cx="485.81" cy="965.46" r="6.6000000000000005"/><circle cx="502.13" cy="965.46" r="6.6000000000000005"/><circle cx="518.46" cy="965.46" r="6.6000000000000005"/><circle cx="534.79" cy="965.46" r="6.6000000000000005"/><circle cx="551.12" cy="965.46" r="6.6000000000000005"/><circle cx="567.45" cy="965.46" r="6.6000000000000005"/><circle cx="485.81" cy="980.81" r="6.6000000000000005"/><circle cx="502.13" cy="980.81" r="6.6000000000000005"/><circle cx="518.46" cy="980.81" r="6.6000000000000005"/><circle cx="534.79" cy="980.81" r="6.6000000000000005"/><circle cx="551.12" cy="980.81" r="6.6000000000000005"/><circle cx="567.45" cy="980.81" r="6.6000000000000005"/><circle cx="420.49" cy="996.16" r="6.6000000000000005"/><circle cx="485.81" cy="996.16" r="6.6000000000000005"/><circle cx="502.13" cy="996.16" r="6.6000000000000005"/><circle cx="518.46" cy="996.16" r="6.6000000000000005"/><circle cx="534.79" cy="996.16" r="6.6000000000000005"/><circle cx="551.12" cy="996.16" r="6.6000000000000005"/><circle cx="567.45" cy="996.16" r="6.6000000000000005"/><circle cx="420.49" cy="1011.51" r="6.6000000000000005"/><circle cx="485.81" cy="1011.51" r="6.6000000000000005"/><circle cx="534.79" cy="1011.51" r="6.6000000000000005"/><circle cx="551.12" cy="1011.51" r="6.6000000000000005"/><circle cx="567.45" cy="1011.51" r="6.6000000000000005"/><circle cx="404.16" cy="1026.85" r="6.6000000000000005"/><circle cx="485.81" cy="1026.85" r="6.6000000000000005"/><circle cx="502.13" cy="1026.85" r="6.6000000000000005"/><circle cx="518.46" cy="1026.85" r="6.6000000000000005"/><circle cx="534.79" cy="1026.85" r="6.6000000000000005"/><circle cx="551.12" cy="1026.85" r="6.6000000000000005"/><circle cx="567.45" cy="1026.85" r="6.6000000000000005"/><circle cx="485.81" cy="1042.20" r="6.6000000000000005"/><circle cx="502.13" cy="1042.20" r="6.6000000000000005"/><circle cx="518.46" cy="1042.20" r="6.6000000000000005"/><circle cx="534.79" cy="1042.20" r="6.6000000000000005"/><circle cx="551.12" cy="1042.20" r="6.6000000000000005"/><circle cx="567.45" cy="1042.20" r="6.6000000000000005"/><circle cx="404.16" cy="1057.55" r="6.6000000000000005"/><circle cx="420.49" cy="1057.55" r="6.6000000000000005"/><circle cx="485.81" cy="1057.55" r="6.6000000000000005"/><circle cx="518.46" cy="1057.55" r="6.6000000000000005"/><circle cx="534.79" cy="1057.55" r="6.6000000000000005"/><circle cx="551.12" cy="1057.55" r="6.6000000000000005"/><circle cx="567.45" cy="1057.55" r="6.6000000000000005"/><circle cx="420.49" cy="1072.90" r="6.6000000000000005"/><circle cx="469.48" cy="1072.90" r="6.6000000000000005"/><circle cx="485.81" cy="1072.90" r="6.6000000000000005"/><circle cx="534.79" cy="1072.90" r="6.6000000000000005"/><circle cx="551.12" cy="1072.90" r="6.6000000000000005"/><circle cx="567.45" cy="1072.90" r="6.6000000000000005"/><circle cx="420.49" cy="1088.25" r="6.6000000000000005"/><circle cx="469.48" cy="1088.25" r="6.6000000000000005"/><circle cx="485.81" cy="1088.25" r="6.6000000000000005"/><circle cx="502.13" cy="1088.25" r="6.6000000000000005"/><circle cx="534.79" cy="1088.25" r="6.6000000000000005"/><circle cx="551.12" cy="1088.25" r="6.6000000000000005"/><circle cx="567.45" cy="1088.25" r="6.6000000000000005"/></g>
<g fill="#3c428c"><circle cx="600.11" cy="412.90" r="6.9"/><circle cx="681.76" cy="412.90" r="6.9"/><circle cx="632.77" cy="428.25" r="6.9"/><circle cx="681.76" cy="428.25" r="6.9"/><circle cx="600.11" cy="443.60" r="6.9"/><circle cx="681.76" cy="443.60" r="6.9"/><circle cx="583.78" cy="458.95" r="6.9"/><circle cx="600.11" cy="458.95" r="6.9"/><circle cx="583.78" cy="474.30" r="6.9"/><circle cx="649.10" cy="474.30" r="6.9"/><circle cx="681.76" cy="474.30" r="6.9"/><circle cx="583.78" cy="489.64" r="6.9"/><circle cx="600.11" cy="489.64" r="6.9"/><circle cx="681.76" cy="489.64" r="6.9"/><circle cx="583.78" cy="504.99" r="6.9"/><circle cx="600.11" cy="504.99" r="6.9"/><circle cx="649.10" cy="504.99" r="6.9"/><circle cx="681.76" cy="504.99" r="6.9"/><circle cx="583.78" cy="520.34" r="6.9"/><circle cx="616.44" cy="520.34" r="6.9"/><circle cx="681.76" cy="520.34" r="6.9"/><circle cx="583.78" cy="535.69" r="6.9"/><circle cx="665.43" cy="535.69" r="6.9"/><circle cx="583.78" cy="551.04" r="6.9"/><circle cx="665.43" cy="551.04" r="6.9"/><circle cx="681.76" cy="551.04" r="6.9"/><circle cx="583.78" cy="566.39" r="6.9"/><circle cx="616.44" cy="566.39" r="6.9"/><circle cx="632.77" cy="612.44" r="6.9"/><circle cx="583.78" cy="627.78" r="6.9"/><circle cx="616.44" cy="627.78" r="6.9"/><circle cx="632.77" cy="627.78" r="6.9"/><circle cx="681.76" cy="627.78" r="6.9"/><circle cx="600.11" cy="673.83" r="6.9"/><circle cx="616.44" cy="673.83" r="6.9"/><circle cx="649.10" cy="673.83" r="6.9"/><circle cx="665.43" cy="673.83" r="6.9"/><circle cx="681.76" cy="673.83" r="6.9"/><circle cx="616.44" cy="689.18" r="6.9"/><circle cx="649.10" cy="689.18" r="6.9"/><circle cx="681.76" cy="689.18" r="6.9"/><circle cx="583.78" cy="704.53" r="6.9"/><circle cx="600.11" cy="704.53" r="6.9"/><circle cx="681.76" cy="704.53" r="6.9"/><circle cx="681.76" cy="719.88" r="6.9"/><circle cx="583.78" cy="735.23" r="6.9"/><circle cx="600.11" cy="735.23" r="6.9"/><circle cx="681.76" cy="735.23" r="6.9"/><circle cx="583.78" cy="750.58" r="6.9"/><circle cx="616.44" cy="750.58" r="6.9"/><circle cx="681.76" cy="750.58" r="6.9"/><circle cx="616.44" cy="765.92" r="6.9"/><circle cx="681.76" cy="765.92" r="6.9"/><circle cx="665.43" cy="781.27" r="6.9"/><circle cx="600.11" cy="796.62" r="6.9"/><circle cx="681.76" cy="796.62" r="6.9"/><circle cx="583.78" cy="811.97" r="6.9"/><circle cx="681.76" cy="811.97" r="6.9"/><circle cx="583.78" cy="827.32" r="6.9"/><circle cx="632.77" cy="827.32" r="6.9"/><circle cx="681.76" cy="827.32" r="6.9"/><circle cx="583.78" cy="842.67" r="6.9"/><circle cx="600.11" cy="842.67" r="6.9"/><circle cx="665.43" cy="842.67" r="6.9"/><circle cx="681.76" cy="842.67" r="6.9"/><circle cx="632.77" cy="858.02" r="6.9"/><circle cx="583.78" cy="873.37" r="6.9"/><circle cx="600.11" cy="873.37" r="6.9"/><circle cx="632.77" cy="873.37" r="6.9"/><circle cx="681.76" cy="873.37" r="6.9"/><circle cx="616.44" cy="888.71" r="6.9"/><circle cx="681.76" cy="888.71" r="6.9"/><circle cx="583.78" cy="904.06" r="6.9"/><circle cx="649.10" cy="904.06" r="6.9"/><circle cx="681.76" cy="904.06" r="6.9"/><circle cx="616.44" cy="919.41" r="6.9"/><circle cx="681.76" cy="919.41" r="6.9"/><circle cx="583.78" cy="934.76" r="6.9"/><circle cx="616.44" cy="934.76" r="6.9"/><circle cx="600.11" cy="950.11" r="6.9"/><circle cx="616.44" cy="950.11" r="6.9"/><circle cx="600.11" cy="965.46" r="6.9"/><circle cx="583.78" cy="980.81" r="6.9"/><circle cx="600.11" cy="980.81" r="6.9"/><circle cx="632.77" cy="980.81" r="6.9"/><circle cx="583.78" cy="996.16" r="6.9"/><circle cx="632.77" cy="996.16" r="6.9"/><circle cx="600.11" cy="1011.51" r="6.9"/><circle cx="616.44" cy="1011.51" r="6.9"/><circle cx="632.77" cy="1011.51" r="6.9"/><circle cx="649.10" cy="1011.51" r="6.9"/><circle cx="665.43" cy="1011.51" r="6.9"/><circle cx="681.76" cy="1011.51" r="6.9"/><circle cx="600.11" cy="1026.85" r="6.9"/><circle cx="616.44" cy="1026.85" r="6.9"/><circle cx="632.77" cy="1026.85" r="6.9"/><circle cx="665.43" cy="1026.85" r="6.9"/><circle cx="681.76" cy="1026.85" r="6.9"/><circle cx="616.44" cy="1042.20" r="6.9"/><circle cx="649.10" cy="1042.20" r="6.9"/><circle cx="583.78" cy="1057.55" r="6.9"/><circle cx="600.11" cy="1057.55" r="6.9"/><circle cx="632.77" cy="1057.55" r="6.9"/><circle cx="649.10" cy="1057.55" r="6.9"/><circle cx="665.43" cy="1072.90" r="6.9"/><circle cx="632.77" cy="1088.25" r="6.9"/></g>
<g fill="#fff" stroke="#74748c" stroke-width="0.8"><circle cx="583.78" cy="412.90" r="6.6000000000000005"/><circle cx="616.44" cy="412.90" r="6.6000000000000005"/><circle cx="632.77" cy="412.90" r="6.6000000000000005"/><circle cx="649.10" cy="412.90" r="6.6000000000000005"/><circle cx="665.43" cy="412.90" r="6.6000000000000005"/><circle cx="583.78" cy="428.25" r="6.6000000000000005"/><circle cx="600.11" cy="428.25" r="6.6000000000000005"/><circle cx="616.44" cy="428.25" r="6.6000000000000005"/><circle cx="649.10" cy="428.25" r="6.6000000000000005"/><circle cx="665.43" cy="428.25" r="6.6000000000000005"/><circle cx="583.78" cy="443.60" r="6.6000000000000005"/><circle cx="616.44" cy="443.60" r="6.6000000000000005"/><circle cx="632.77" cy="443.60" r="6.6000000000000005"/><circle cx="649.10" cy="443.60" r="6.6000000000000005"/><circle cx="665.43" cy="443.60" r="6.6000000000000005"/><circle cx="616.44" cy="458.95" r="6.6000000000000005"/><circle cx="632.77" cy="458.95" r="6.6000000000000005"/><circle cx="649.10" cy="458.95" r="6.6000000000000005"/><circle cx="665.43" cy="458.95" r="6.6000000000000005"/><circle cx="681.76" cy="458.95" r="6.6000000000000005"/><circle cx="600.11" cy="474.30" r="6.6000000000000005"/><circle cx="616.44" cy="474.30" r="6.6000000000000005"/><circle cx="632.77" cy="474.30" r="6.6000000000000005"/><circle cx="665.43" cy="474.30" r="6.6000000000000005"/><circle cx="616.44" cy="489.64" r="6.6000000000000005"/><circle cx="632.77" cy="489.64" r="6.6000000000000005"/><circle cx="649.10" cy="489.64" r="6.6000000000000005"/><circle cx="665.43" cy="489.64" r="6.6000000000000005"/><circle cx="616.44" cy="504.99" r="6.6000000000000005"/><circle cx="632.77" cy="504.99" r="6.6000000000000005"/><circle cx="665.43" cy="504.99" r="6.6000000000000005"/><circle cx="600.11" cy="520.34" r="6.6000000000000005"/><circle cx="632.77" cy="520.34" r="6.6000000000000005"/><circle cx="649.10" cy="520.34" r="6.6000000000000005"/><circle cx="665.43" cy="520.34" r="6.6000000000000005"/><circle cx="600.11" cy="535.69" r="6.6000000000000005"/><circle cx="616.44" cy="535.69" r="6.6000000000000005"/><circle cx="632.77" cy="535.69" r="6.6000000000000005"/><circle cx="649.10" cy="535.69" r="6.6000000000000005"/><circle cx="681.76" cy="535.69" r="6.6000000000000005"/><circle cx="600.11" cy="551.04" r="6.6000000000000005"/><circle cx="616.44" cy="551.04" r="6.6000000000000005"/><circle cx="632.77" cy="551.04" r="6.6000000000000005"/><circle cx="649.10" cy="551.04" r="6.6000000000000005"/><circle cx="600.11" cy="566.39" r="6.6000000000000005"/><circle cx="632.77" cy="566.39" r="6.6000000000000005"/><circle cx="649.10" cy="566.39" r="6.6000000000000005"/><circle cx="665.43" cy="566.39" r="6.6000000000000005"/><circle cx="681.76" cy="566.39" r="6.6000000000000005"/><circle cx="583.78" cy="581.74" r="6.6000000000000005"/><circle cx="600.11" cy="581.74" r="6.6000000000000005"/><circle cx="616.44" cy="581.74" r="6.6000000000000005"/><circle cx="632.77" cy="581.74" r="6.6000000000000005"/><circle cx="649.10" cy="581.74" r="6.6000000000000005"/><circle cx="665.43" cy="581.74" r="6.6000000000000005"/><circle cx="681.76" cy="581.74" r="6.6000000000000005"/><circle cx="583.78" cy="597.09" r="6.6000000000000005"/><circle cx="600.11" cy="597.09" r="6.6000000000000005"/><circle cx="616.44" cy="597.09" r="6.6000000000000005"/><circle cx="632.77" cy="597.09" r="6.6000000000000005"/><circle cx="649.10" cy="597.09" r="6.6000000000000005"/><circle cx="665.43" cy="597.09" r="6.6000000000000005"/><circle cx="681.76" cy="597.09" r="6.6000000000000005"/><circle cx="583.78" cy="612.44" r="6.6000000000000005"/><circle cx="600.11" cy="612.44" r="6.6000000000000005"/><circle cx="616.44" cy="612.44" r="6.6000000000000005"/><circle cx="649.10" cy="612.44" r="6.6000000000000005"/><circle cx="665.43" cy="612.44" r="6.6000000000000005"/><circle cx="681.76" cy="612.44" r="6.6000000000000005"/><circle cx="600.11" cy="627.78" r="6.6000000000000005"/><circle cx="649.10" cy="627.78" r="6.6000000000000005"/><circle cx="665.43" cy="627.78" r="6.6000000000000005"/><circle cx="583.78" cy="643.13" r="6.6000000000000005"/><circle cx="600.11" cy="643.13" r="6.6000000000000005"/><circle cx="616.44" cy="643.13" r="6.6000000000000005"/><circle cx="632.77" cy="643.13" r="6.6000000000000005"/><circle cx="649.10" cy="643.13" r="6.6000000000000005"/><circle cx="665.43" cy="643.13" r="6.6000000000000005"/><circle cx="681.76" cy="643.13" r="6.6000000000000005"/><circle cx="583.78" cy="658.48" r="6.6000000000000005"/><circle cx="600.11" cy="658.48" r="6.6000000000000005"/><circle cx="616.44" cy="658.48" r="6.6000000000000005"/><circle cx="632.77" cy="658.48" r="6.6000000000000005"/><circle cx="649.10" cy="658.48" r="6.6000000000000005"/><circle cx="665.43" cy="658.48" r="6.6000000000000005"/><circle cx="681.76" cy="658.48" r="6.6000000000000005"/><circle cx="583.78" cy="673.83" r="6.6000000000000005"/><circle cx="632.77" cy="673.83" r="6.6000000000000005"/><circle cx="583.78" cy="689.18" r="6.6000000000000005"/><circle cx="600.11" cy="689.18" r="6.6000000000000005"/><circle cx="632.77" cy="689.18" r="6.6000000000000005"/><circle cx="665.43" cy="689.18" r="6.6000000000000005"/><circle cx="616.44" cy="704.53" r="6.6000000000000005"/><circle cx="632.77" cy="704.53" r="6.6000000000000005"/><circle cx="649.10" cy="704.53" r="6.6000000000000005"/><circle cx="665.43" cy="704.53" r="6.6000000000000005"/><circle cx="583.78" cy="719.88" r="6.6000000000000005"/><circle cx="600.11" cy="719.88" r="6.6000000000000005"/><circle cx="616.44" cy="719.88" r="6.6000000000000005"/><circle cx="632.77" cy="719.88" r="6.6000000000000005"/><circle cx="649.10" cy="719.88" r="6.6000000000000005"/><circle cx="665.43" cy="719.88" r="6.6000000000000005"/><circle cx="616.44" cy="735.23" r="6.6000000000000005"/><circle cx="632.77" cy="735.23" r="6.6000000000000005"/><circle cx="649.10" cy="735.23" r="6.6000000000000005"/><circle cx="665.43" cy="735.23" r="6.6000000000000005"/><circle cx="600.11" cy="750.58" r="6.6000000000000005"/><circle cx="632.77" cy="750.58" r="6.6000000000000005"/><circle cx="649.10" cy="750.58" r="6.6000000000000005"/><circle cx="665.43" cy="750.58" r="6.6000000000000005"/><circle cx="583.78" cy="765.92" r="6.6000000000000005"/><circle cx="600.11" cy="765.92" r="6.6000000000000005"/><circle cx="632.77" cy="765.92" r="6.6000000000000005"/><circle cx="649.10" cy="765.92" r="6.6000000000000005"/><circle cx="665.43" cy="765.92" r="6.6000000000000005"/><circle cx="583.78" cy="781.27" r="6.6000000000000005"/><circle cx="600.11" cy="781.27" r="6.6000000000000005"/><circle cx="616.44" cy="781.27" r="6.6000000000000005"/><circle cx="632.77" cy="781.27" r="6.6000000000000005"/><circle cx="649.10" cy="781.27" r="6.6000000000000005"/><circle cx="681.76" cy="781.27" r="6.6000000000000005"/><circle cx="583.78" cy="796.62" r="6.6000000000000005"/><circle cx="616.44" cy="796.62" r="6.6000000000000005"/><circle cx="632.77" cy="796.62" r="6.6000000000000005"/><circle cx="649.10" cy="796.62" r="6.6000000000000005"/><circle cx="665.43" cy="796.62" r="6.6000000000000005"/><circle cx="600.11" cy="811.97" r="6.6000000000000005"/><circle cx="616.44" cy="811.97" r="6.6000000000000005"/><circle cx="632.77" cy="811.97" r="6.6000000000000005"/><circle cx="649.10" cy="811.97" r="6.6000000000000005"/><circle cx="665.43" cy="811.97" r="6.6000000000000005"/><circle cx="600.11" cy="827.32" r="6.6000000000000005"/><circle cx="616.44" cy="827.32" r="6.6000000000000005"/><circle cx="649.10" cy="827.32" r="6.6000000000000005"/><circle cx="665.43" cy="827.32" r="6.6000000000000005"/><circle cx="616.44" cy="842.67" r="6.6000000000000005"/><circle cx="632.77" cy="842.67" r="6.6000000000000005"/><circle cx="649.10" cy="842.67" r="6.6000000000000005"/><circle cx="583.78" cy="858.02" r="6.6000000000000005"/><circle cx="600.11" cy="858.02" r="6.6000000000000005"/><circle cx="616.44" cy="858.02" r="6.6000000000000005"/><circle cx="649.10" cy="858.02" r="6.6000000000000005"/><circle cx="665.43" cy="858.02" r="6.6000000000000005"/><circle cx="681.76" cy="858.02" r="6.6000000000000005"/><circle cx="616.44" cy="873.37" r="6.6000000000000005"/><circle cx="649.10" cy="873.37" r="6.6000000000000005"/><circle cx="665.43" cy="873.37" r="6.6000000000000005"/><circle cx="583.78" cy="888.71" r="6.6000000000000005"/><circle cx="600.11" cy="888.71" r="6.6000000000000005"/><circle cx="632.77" cy="888.71" r="6.6000000000000005"/><circle cx="649.10" cy="888.71" r="6.6000000000000005"/><circle cx="665.43" cy="888.71" r="6.6000000000000005"/><circle cx="600.11" cy="904.06" r="6.6000000000000005"/><circle cx="616.44" cy="904.06" r="6.6000000000000005"/><circle cx="632.77" cy="904.06" r="6.6000000000000005"/><circle cx="665.43" cy="904.06" r="6.6000000000000005"/><circle cx="583.78" cy="919.41" r="6.6000000000000005"/><circle cx="600.11" cy="919.41" r="6.6000000000000005"/><circle cx="632.77" cy="919.41" r="6.6000000000000005"/><circle cx="649.10" cy="919.41" r="6.6000000000000005"/><circle cx="665.43" cy="919.41" r="6.6000000000000005"/><circle cx="600.11" cy="934.76" r="6.6000000000000005"/><circle cx="632.77" cy="934.76" r="6.6000000000000005"/><circle cx="649.10" cy="934.76" r="6.6000000000000005"/><circle cx="665.43" cy="934.76" r="6.6000000000000005"/><circle cx="681.76" cy="934.76" r="6.6000000000000005"/><circle cx="583.78" cy="950.11" r="6.6000000000000005"/><circle cx="632.77" cy="950.11" r="6.6000000000000005"/><circle cx="649.10" cy="950.11" r="6.6000000000000005"/><circle cx="665.43" cy="950.11" r="6.6000000000000005"/><circle cx="681.76" cy="950.11" r="6.6000000000000005"/><circle cx="583.78" cy="965.46" r="6.6000000000000005"/><circle cx="616.44" cy="965.46" r="6.6000000000000005"/><circle cx="632.77" cy="965.46" r="6.6000000000000005"/><circle cx="649.10" cy="965.46" r="6.6000000000000005"/><circle cx="665.43" cy="965.46" r="6.6000000000000005"/><circle cx="681.76" cy="965.46" r="6.6000000000000005"/><circle cx="616.44" cy="980.81" r="6.6000000000000005"/><circle cx="649.10" cy="980.81" r="6.6000000000000005"/><circle cx="665.43" cy="980.81" r="6.6000000000000005"/><circle cx="681.76" cy="980.81" r="6.6000000000000005"/><circle cx="600.11" cy="996.16" r="6.6000000000000005"/><circle cx="616.44" cy="996.16" r="6.6000000000000005"/><circle cx="649.10" cy="996.16" r="6.6000000000000005"/><circle cx="665.43" cy="996.16" r="6.6000000000000005"/><circle cx="681.76" cy="996.16" r="6.6000000000000005"/><circle cx="583.78" cy="1011.51" r="6.6000000000000005"/><circle cx="583.78" cy="1026.85" r="6.6000000000000005"/><circle cx="649.10" cy="1026.85" r="6.6000000000000005"/><circle cx="583.78" cy="1042.20" r="6.6000000000000005"/><circle cx="600.11" cy="1042.20" r="6.6000000000000005"/><circle cx="632.77" cy="1042.20" r="6.6000000000000005"/><circle cx="665.43" cy="1042.20" r="6.6000000000000005"/><circle cx="681.76" cy="1042.20" r="6.6000000000000005"/><circle cx="616.44" cy="1057.55" r="6.6000000000000005"/><circle cx="665.43" cy="1057.55" r="6.6000000000000005"/><circle cx="681.76" cy="1057.55" r="6.6000000000000005"/><circle cx="583.78" cy="1072.90" r="6.6000000000000005"/><circle cx="600.11" cy="1072.90" r="6.6000000000000005"/><circle cx="616.44" cy="1072.90" r="6.6000000000000005"/><circle cx="632.77" cy="1072.90" r="6.6000000000000005"/><circle cx="649.10" cy="1072.90" r="6.6000000000000005"/><circle cx="681.76" cy="1072.90" r="6.6000000000000005"/><circle cx="583.78" cy="1088.25" r="6.6000000000000005"/><circle cx="600.11" cy="1088.25" r="6.6000000000000005"/><circle cx="616.44" cy="1088.25" r="6.6000000000000005"/><circle cx="649.10" cy="1088.25" r="6.6000000000000005"/><circle cx="665.43" cy="1088.25" r="6.6000000000000005"/><circle cx="681.76" cy="1088.25" r="6.6000000000000005"/></g>
<g fill="#8d342a"><circle cx="698.09" cy="412.90" r="6.9"/><circle cx="730.75" cy="412.90" r="6.9"/><circle cx="763.40" cy="412.90" r="6.9"/><circle cx="779.73" cy="412.90" r="6.9"/><circle cx="796.06" cy="412.90" r="6.9"/><circle cx="812.39" cy="412.90" r="6.9"/><circle cx="845.05" cy="412.90" r="6.9"/><circle cx="861.38" cy="412.90" r="6.9"/><circle cx="894.04" cy="412.90" r="6.9"/><circle cx="910.37" cy="412.90" r="6.9"/><circle cx="926.70" cy="412.90" r="6.9"/><circle cx="943.03" cy="412.90" r="6.9"/><circle cx="959.36" cy="412.90" r="6.9"/><circle cx="730.75" cy="428.25" r="6.9"/><circle cx="763.40" cy="428.25" r="6.9"/><circle cx="779.73" cy="428.25" r="6.9"/><circle cx="796.06" cy="428.25" r="6.9"/><circle cx="828.72" cy="428.25" r="6.9"/><circle cx="845.05" cy="428.25" r="6.9"/><circle cx="861.38" cy="428.25" r="6.9"/><circle cx="894.04" cy="428.25" r="6.9"/><circle cx="910.37" cy="428.25" r="6.9"/><circle cx="926.70" cy="428.25" r="6.9"/><circle cx="943.03" cy="428.25" r="6.9"/><circle cx="763.40" cy="443.60" r="6.9"/><circle cx="779.73" cy="443.60" r="6.9"/><circle cx="796.06" cy="443.60" r="6.9"/><circle cx="812.39" cy="443.60" r="6.9"/><circle cx="828.72" cy="443.60" r="6.9"/><circle cx="845.05" cy="443.60" r="6.9"/><circle cx="861.38" cy="443.60" r="6.9"/><circle cx="894.04" cy="443.60" r="6.9"/><circle cx="910.37" cy="443.60" r="6.9"/><circle cx="926.70" cy="443.60" r="6.9"/><circle cx="943.03" cy="443.60" r="6.9"/><circle cx="698.09" cy="458.95" r="6.9"/><circle cx="779.73" cy="458.95" r="6.9"/><circle cx="796.06" cy="458.95" r="6.9"/><circle cx="861.38" cy="458.95" r="6.9"/><circle cx="894.04" cy="458.95" r="6.9"/><circle cx="910.37" cy="458.95" r="6.9"/><circle cx="926.70" cy="458.95" r="6.9"/><circle cx="943.03" cy="458.95" r="6.9"/><circle cx="959.36" cy="458.95" r="6.9"/><circle cx="698.09" cy="474.30" r="6.9"/><circle cx="730.75" cy="474.30" r="6.9"/><circle cx="779.73" cy="474.30" r="6.9"/><circle cx="796.06" cy="474.30" r="6.9"/><circle cx="845.05" cy="474.30" r="6.9"/><circle cx="861.38" cy="474.30" r="6.9"/><circle cx="877.71" cy="474.30" r="6.9"/><circle cx="894.04" cy="474.30" r="6.9"/><circle cx="910.37" cy="474.30" r="6.9"/><circle cx="926.70" cy="474.30" r="6.9"/><circle cx="943.03" cy="474.30" r="6.9"/><circle cx="959.36" cy="474.30" r="6.9"/><circle cx="698.09" cy="489.64" r="6.9"/><circle cx="730.75" cy="489.64" r="6.9"/><circle cx="763.40" cy="489.64" r="6.9"/><circle cx="779.73" cy="489.64" r="6.9"/><circle cx="812.39" cy="489.64" r="6.9"/><circle cx="845.05" cy="489.64" r="6.9"/><circle cx="861.38" cy="489.64" r="6.9"/><circle cx="894.04" cy="489.64" r="6.9"/><circle cx="910.37" cy="489.64" r="6.9"/><circle cx="926.70" cy="489.64" r="6.9"/><circle cx="943.03" cy="489.64" r="6.9"/><circle cx="698.09" cy="504.99" r="6.9"/><circle cx="763.40" cy="504.99" r="6.9"/><circle cx="779.73" cy="504.99" r="6.9"/><circle cx="796.06" cy="504.99" r="6.9"/><circle cx="861.38" cy="504.99" r="6.9"/><circle cx="894.04" cy="504.99" r="6.9"/><circle cx="910.37" cy="504.99" r="6.9"/><circle cx="926.70" cy="504.99" r="6.9"/><circle cx="943.03" cy="504.99" r="6.9"/><circle cx="698.09" cy="520.34" r="6.9"/><circle cx="714.42" cy="520.34" r="6.9"/><circle cx="779.73" cy="520.34" r="6.9"/><circle cx="796.06" cy="520.34" r="6.9"/><circle cx="779.73" cy="535.69" r="6.9"/><circle cx="812.39" cy="535.69" r="6.9"/><circle cx="894.04" cy="535.69" r="6.9"/><circle cx="910.37" cy="535.69" r="6.9"/><circle cx="926.70" cy="535.69" r="6.9"/><circle cx="943.03" cy="535.69" r="6.9"/><circle cx="779.73" cy="551.04" r="6.9"/><circle cx="796.06" cy="551.04" r="6.9"/><circle cx="812.39" cy="551.04" r="6.9"/><circle cx="845.05" cy="551.04" r="6.9"/><circle cx="861.38" cy="551.04" r="6.9"/><circle cx="894.04" cy="551.04" r="6.9"/><circle cx="943.03" cy="551.04" r="6.9"/><circle cx="779.73" cy="566.39" r="6.9"/><circle cx="796.06" cy="566.39" r="6.9"/><circle cx="812.39" cy="566.39" r="6.9"/><circle cx="845.05" cy="566.39" r="6.9"/><circle cx="861.38" cy="566.39" r="6.9"/><circle cx="894.04" cy="566.39" r="6.9"/><circle cx="943.03" cy="566.39" r="6.9"/><circle cx="779.73" cy="581.74" r="6.9"/><circle cx="796.06" cy="581.74" r="6.9"/><circle cx="812.39" cy="581.74" r="6.9"/><circle cx="894.04" cy="581.74" r="6.9"/><circle cx="943.03" cy="581.74" r="6.9"/><circle cx="714.42" cy="597.09" r="6.9"/><circle cx="779.73" cy="597.09" r="6.9"/><circle cx="845.05" cy="597.09" r="6.9"/><circle cx="861.38" cy="597.09" r="6.9"/><circle cx="894.04" cy="597.09" r="6.9"/><circle cx="910.37" cy="597.09" r="6.9"/><circle cx="926.70" cy="597.09" r="6.9"/><circle cx="943.03" cy="597.09" r="6.9"/><circle cx="959.36" cy="597.09" r="6.9"/><circle cx="779.73" cy="612.44" r="6.9"/><circle cx="861.38" cy="612.44" r="6.9"/><circle cx="894.04" cy="612.44" r="6.9"/><circle cx="910.37" cy="612.44" r="6.9"/><circle cx="926.70" cy="612.44" r="6.9"/><circle cx="943.03" cy="612.44" r="6.9"/><circle cx="714.42" cy="627.78" r="6.9"/><circle cx="779.73" cy="627.78" r="6.9"/><circle cx="796.06" cy="627.78" r="6.9"/><circle cx="812.39" cy="627.78" r="6.9"/><circle cx="845.05" cy="627.78" r="6.9"/><circle cx="861.38" cy="627.78" r="6.9"/><circle cx="894.04" cy="627.78" r="6.9"/><circle cx="910.37" cy="627.78" r="6.9"/><circle cx="926.70" cy="627.78" r="6.9"/><circle cx="943.03" cy="627.78" r="6.9"/><circle cx="959.36" cy="627.78" r="6.9"/><circle cx="779.73" cy="643.13" r="6.9"/><circle cx="894.04" cy="643.13" r="6.9"/><circle cx="910.37" cy="643.13" r="6.9"/><circle cx="926.70" cy="643.13" r="6.9"/><circle cx="779.73" cy="658.48" r="6.9"/><circle cx="812.39" cy="658.48" r="6.9"/><circle cx="698.09" cy="673.83" r="6.9"/><circle cx="730.75" cy="673.83" r="6.9"/><circle cx="763.40" cy="673.83" r="6.9"/><circle cx="779.73" cy="673.83" r="6.9"/><circle cx="796.06" cy="673.83" r="6.9"/><circle cx="845.05" cy="673.83" r="6.9"/><circle cx="861.38" cy="673.83" r="6.9"/><circle cx="877.71" cy="673.83" r="6.9"/><circle cx="894.04" cy="673.83" r="6.9"/><circle cx="910.37" cy="673.83" r="6.9"/><circle cx="926.70" cy="673.83" r="6.9"/><circle cx="943.03" cy="673.83" r="6.9"/><circle cx="959.36" cy="673.83" r="6.9"/><circle cx="698.09" cy="689.18" r="6.9"/><circle cx="779.73" cy="689.18" r="6.9"/><circle cx="796.06" cy="689.18" r="6.9"/><circle cx="845.05" cy="689.18" r="6.9"/><circle cx="861.38" cy="689.18" r="6.9"/><circle cx="894.04" cy="689.18" r="6.9"/><circle cx="910.37" cy="689.18" r="6.9"/><circle cx="926.70" cy="689.18" r="6.9"/><circle cx="943.03" cy="689.18" r="6.9"/><circle cx="959.36" cy="689.18" r="6.9"/><circle cx="698.09" cy="704.53" r="6.9"/><circle cx="763.40" cy="704.53" r="6.9"/><circle cx="779.73" cy="704.53" r="6.9"/><circle cx="796.06" cy="704.53" r="6.9"/><circle cx="861.38" cy="704.53" r="6.9"/><circle cx="894.04" cy="704.53" r="6.9"/><circle cx="910.37" cy="704.53" r="6.9"/><circle cx="926.70" cy="704.53" r="6.9"/><circle cx="943.03" cy="704.53" r="6.9"/><circle cx="959.36" cy="704.53" r="6.9"/><circle cx="698.09" cy="719.88" r="6.9"/><circle cx="779.73" cy="719.88" r="6.9"/><circle cx="796.06" cy="719.88" r="6.9"/><circle cx="845.05" cy="719.88" r="6.9"/><circle cx="861.38" cy="719.88" r="6.9"/><circle cx="894.04" cy="719.88" r="6.9"/><circle cx="910.37" cy="719.88" r="6.9"/><circle cx="926.70" cy="719.88" r="6.9"/><circle cx="943.03" cy="719.88" r="6.9"/><circle cx="959.36" cy="719.88" r="6.9"/><circle cx="698.09" cy="735.23" r="6.9"/><circle cx="779.73" cy="735.23" r="6.9"/><circle cx="796.06" cy="735.23" r="6.9"/><circle cx="812.39" cy="735.23" r="6.9"/><circle cx="828.72" cy="735.23" r="6.9"/><circle cx="845.05" cy="735.23" r="6.9"/><circle cx="861.38" cy="735.23" r="6.9"/><circle cx="894.04" cy="735.23" r="6.9"/><circle cx="910.37" cy="735.23" r="6.9"/><circle cx="926.70" cy="735.23" r="6.9"/><circle cx="943.03" cy="735.23" r="6.9"/><circle cx="959.36" cy="735.23" r="6.9"/><circle cx="698.09" cy="750.58" r="6.9"/><circle cx="747.08" cy="750.58" r="6.9"/><circle cx="779.73" cy="750.58" r="6.9"/><circle cx="796.06" cy="750.58" r="6.9"/><circle cx="812.39" cy="750.58" r="6.9"/><circle cx="861.38" cy="750.58" r="6.9"/><circle cx="894.04" cy="750.58" r="6.9"/><circle cx="910.37" cy="750.58" r="6.9"/><circle cx="926.70" cy="750.58" r="6.9"/><circle cx="959.36" cy="750.58" r="6.9"/><circle cx="698.09" cy="765.92" r="6.9"/><circle cx="747.08" cy="765.92" r="6.9"/><circle cx="779.73" cy="765.92" r="6.9"/><circle cx="796.06" cy="765.92" r="6.9"/><circle cx="812.39" cy="765.92" r="6.9"/><circle cx="845.05" cy="765.92" r="6.9"/><circle cx="861.38" cy="765.92" r="6.9"/><circle cx="894.04" cy="765.92" r="6.9"/><circle cx="910.37" cy="765.92" r="6.9"/><circle cx="926.70" cy="765.92" r="6.9"/><circle cx="698.09" cy="781.27" r="6.9"/><circle cx="779.73" cy="781.27" r="6.9"/><circle cx="796.06" cy="781.27" r="6.9"/><circle cx="845.05" cy="781.27" r="6.9"/><circle cx="861.38" cy="781.27" r="6.9"/><circle cx="894.04" cy="781.27" r="6.9"/><circle cx="910.37" cy="781.27" r="6.9"/><circle cx="926.70" cy="781.27" r="6.9"/><circle cx="943.03" cy="781.27" r="6.9"/><circle cx="698.09" cy="796.62" r="6.9"/><circle cx="730.75" cy="796.62" r="6.9"/><circle cx="763.40" cy="796.62" r="6.9"/><circle cx="779.73" cy="796.62" r="6.9"/><circle cx="845.05" cy="796.62" r="6.9"/><circle cx="861.38" cy="796.62" r="6.9"/><circle cx="877.71" cy="796.62" r="6.9"/><circle cx="894.04" cy="796.62" r="6.9"/><circle cx="910.37" cy="796.62" r="6.9"/><circle cx="926.70" cy="796.62" r="6.9"/><circle cx="943.03" cy="796.62" r="6.9"/><circle cx="959.36" cy="796.62" r="6.9"/><circle cx="698.09" cy="811.97" r="6.9"/><circle cx="779.73" cy="811.97" r="6.9"/><circle cx="796.06" cy="811.97" r="6.9"/><circle cx="812.39" cy="811.97" r="6.9"/><circle cx="861.38" cy="811.97" r="6.9"/><circle cx="894.04" cy="811.97" r="6.9"/><circle cx="910.37" cy="811.97" r="6.9"/><circle cx="926.70" cy="811.97" r="6.9"/><circle cx="943.03" cy="811.97" r="6.9"/><circle cx="698.09" cy="827.32" r="6.9"/><circle cx="779.73" cy="827.32" r="6.9"/><circle cx="812.39" cy="827.32" r="6.9"/><circle cx="845.05" cy="827.32" r="6.9"/><circle cx="861.38" cy="827.32" r="6.9"/><circle cx="894.04" cy="827.32" r="6.9"/><circle cx="910.37" cy="827.32" r="6.9"/><circle cx="926.70" cy="827.32" r="6.9"/><circle cx="943.03" cy="827.32" r="6.9"/><circle cx="959.36" cy="827.32" r="6.9"/><circle cx="698.09" cy="842.67" r="6.9"/><circle cx="779.73" cy="842.67" r="6.9"/><circle cx="796.06" cy="842.67" r="6.9"/><circle cx="812.39" cy="842.67" r="6.9"/><circle cx="861.38" cy="842.67" r="6.9"/><circle cx="894.04" cy="842.67" r="6.9"/><circle cx="943.03" cy="842.67" r="6.9"/><circle cx="779.73" cy="858.02" r="6.9"/><circle cx="796.06" cy="858.02" r="6.9"/><circle cx="845.05" cy="858.02" r="6.9"/><circle cx="861.38" cy="858.02" r="6.9"/><circle cx="894.04" cy="858.02" r="6.9"/><circle cx="910.37" cy="858.02" r="6.9"/><circle cx="926.70" cy="858.02" r="6.9"/><circle cx="943.03" cy="858.02" r="6.9"/><circle cx="698.09" cy="873.37" r="6.9"/><circle cx="763.40" cy="873.37" r="6.9"/><circle cx="779.73" cy="873.37" r="6.9"/><circle cx="796.06" cy="873.37" r="6.9"/><circle cx="845.05" cy="873.37" r="6.9"/><circle cx="861.38" cy="873.37" r="6.9"/><circle cx="894.04" cy="873.37" r="6.9"/><circle cx="910.37" cy="873.37" r="6.9"/><circle cx="926.70" cy="873.37" r="6.9"/><circle cx="943.03" cy="873.37" r="6.9"/><circle cx="959.36" cy="873.37" r="6.9"/><circle cx="698.09" cy="888.71" r="6.9"/><circle cx="779.73" cy="888.71" r="6.9"/><circle cx="796.06" cy="888.71" r="6.9"/><circle cx="698.09" cy="904.06" r="6.9"/><circle cx="763.40" cy="904.06" r="6.9"/><circle cx="779.73" cy="904.06" r="6.9"/><circle cx="796.06" cy="904.06" r="6.9"/><circle cx="845.05" cy="904.06" r="6.9"/><circle cx="861.38" cy="904.06" r="6.9"/><circle cx="894.04" cy="904.06" r="6.9"/><circle cx="910.37" cy="904.06" r="6.9"/><circle cx="926.70" cy="904.06" r="6.9"/><circle cx="943.03" cy="904.06" r="6.9"/><circle cx="959.36" cy="904.06" r="6.9"/><circle cx="730.75" cy="919.41" r="6.9"/><circle cx="763.40" cy="919.41" r="6.9"/><circle cx="779.73" cy="919.41" r="6.9"/><circle cx="796.06" cy="919.41" r="6.9"/><circle cx="812.39" cy="919.41" r="6.9"/><circle cx="845.05" cy="919.41" r="6.9"/><circle cx="861.38" cy="919.41" r="6.9"/><circle cx="894.04" cy="919.41" r="6.9"/><circle cx="910.37" cy="919.41" r="6.9"/><circle cx="926.70" cy="919.41" r="6.9"/><circle cx="943.03" cy="919.41" r="6.9"/><circle cx="959.36" cy="919.41" r="6.9"/><circle cx="714.42" cy="934.76" r="6.9"/><circle cx="747.08" cy="934.76" r="6.9"/><circle cx="779.73" cy="934.76" r="6.9"/><circle cx="796.06" cy="934.76" r="6.9"/><circle cx="812.39" cy="934.76" r="6.9"/><circle cx="894.04" cy="934.76" r="6.9"/><circle cx="910.37" cy="934.76" r="6.9"/><circle cx="926.70" cy="934.76" r="6.9"/><circle cx="943.03" cy="934.76" r="6.9"/><circle cx="714.42" cy="950.11" r="6.9"/><circle cx="779.73" cy="950.11" r="6.9"/><circle cx="796.06" cy="950.11" r="6.9"/><circle cx="894.04" cy="950.11" r="6.9"/><circle cx="910.37" cy="950.11" r="6.9"/><circle cx="926.70" cy="950.11" r="6.9"/><circle cx="943.03" cy="950.11" r="6.9"/><circle cx="959.36" cy="950.11" r="6.9"/><circle cx="779.73" cy="965.46" r="6.9"/><circle cx="894.04" cy="965.46" r="6.9"/><circle cx="943.03" cy="965.46" r="6.9"/><circle cx="714.42" cy="980.81" r="6.9"/><circle cx="779.73" cy="980.81" r="6.9"/><circle cx="796.06" cy="980.81" r="6.9"/><circle cx="812.39" cy="980.81" r="6.9"/><circle cx="747.08" cy="996.16" r="6.9"/><circle cx="779.73" cy="996.16" r="6.9"/><circle cx="812.39" cy="996.16" r="6.9"/><circle cx="894.04" cy="996.16" r="6.9"/><circle cx="943.03" cy="996.16" r="6.9"/><circle cx="779.73" cy="1011.51" r="6.9"/><circle cx="796.06" cy="1011.51" r="6.9"/><circle cx="894.04" cy="1011.51" r="6.9"/><circle cx="910.37" cy="1011.51" r="6.9"/><circle cx="926.70" cy="1011.51" r="6.9"/><circle cx="943.03" cy="1011.51" r="6.9"/><circle cx="959.36" cy="1011.51" r="6.9"/><circle cx="698.09" cy="1026.85" r="6.9"/><circle cx="763.40" cy="1026.85" r="6.9"/><circle cx="779.73" cy="1026.85" r="6.9"/><circle cx="796.06" cy="1026.85" r="6.9"/><circle cx="812.39" cy="1026.85" r="6.9"/><circle cx="894.04" cy="1026.85" r="6.9"/><circle cx="910.37" cy="1026.85" r="6.9"/><circle cx="926.70" cy="1026.85" r="6.9"/><circle cx="943.03" cy="1026.85" r="6.9"/><circle cx="959.36" cy="1026.85" r="6.9"/><circle cx="698.09" cy="1042.20" r="6.9"/><circle cx="779.73" cy="1042.20" r="6.9"/><circle cx="796.06" cy="1042.20" r="6.9"/><circle cx="894.04" cy="1042.20" r="6.9"/><circle cx="943.03" cy="1042.20" r="6.9"/><circle cx="714.42" cy="1057.55" r="6.9"/><circle cx="779.73" cy="1057.55" r="6.9"/><circle cx="796.06" cy="1057.55" r="6.9"/><circle cx="812.39" cy="1057.55" r="6.9"/><circle cx="845.05" cy="1057.55" r="6.9"/><circle cx="861.38" cy="1057.55" r="6.9"/><circle cx="894.04" cy="1057.55" r="6.9"/><circle cx="910.37" cy="1057.55" r="6.9"/><circle cx="926.70" cy="1057.55" r="6.9"/><circle cx="943.03" cy="1057.55" r="6.9"/><circle cx="779.73" cy="1072.90" r="6.9"/><circle cx="796.06" cy="1072.90" r="6.9"/><circle cx="828.72" cy="1072.90" r="6.9"/><circle cx="845.05" cy="1072.90" r="6.9"/><circle cx="861.38" cy="1072.90" r="6.9"/><circle cx="894.04" cy="1072.90" r="6.9"/><circle cx="910.37" cy="1072.90" r="6.9"/><circle cx="926.70" cy="1072.90" r="6.9"/><circle cx="943.03" cy="1072.90" r="6.9"/><circle cx="959.36" cy="1072.90" r="6.9"/><circle cx="698.09" cy="1088.25" r="6.9"/><circle cx="779.73" cy="1088.25" r="6.9"/><circle cx="796.06" cy="1088.25" r="6.9"/><circle cx="828.72" cy="1088.25" r="6.9"/></g>
<g fill="#fff" stroke="#9c5c56" stroke-width="0.8"><circle cx="714.42" cy="412.90" r="6.6000000000000005"/><circle cx="747.08" cy="412.90" r="6.6000000000000005"/><circle cx="828.72" cy="412.90" r="6.6000000000000005"/><circle cx="877.71" cy="412.90" r="6.6000000000000005"/><circle cx="698.09" cy="428.25" r="6.6000000000000005"/><circle cx="714.42" cy="428.25" r="6.6000000000000005"/><circle cx="747.08" cy="428.25" r="6.6000000000000005"/><circle cx="812.39" cy="428.25" r="6.6000000000000005"/><circle cx="877.71" cy="428.25" r="6.6000000000000005"/><circle cx="959.36" cy="428.25" r="6.6000000000000005"/><circle cx="698.09" cy="443.60" r="6.6000000000000005"/><circle cx="714.42" cy="443.60" r="6.6000000000000005"/><circle cx="730.75" cy="443.60" r="6.6000000000000005"/><circle cx="747.08" cy="443.60" r="6.6000000000000005"/><circle cx="877.71" cy="443.60" r="6.6000000000000005"/><circle cx="959.36" cy="443.60" r="6.6000000000000005"/><circle cx="714.42" cy="458.95" r="6.6000000000000005"/><circle cx="730.75" cy="458.95" r="6.6000000000000005"/><circle cx="747.08" cy="458.95" r="6.6000000000000005"/><circle cx="763.40" cy="458.95" r="6.6000000000000005"/><circle cx="812.39" cy="458.95" r="6.6000000000000005"/><circle cx="828.72" cy="458.95" r="6.6000000000000005"/><circle cx="845.05" cy="458.95" r="6.6000000000000005"/><circle cx="877.71" cy="458.95" r="6.6000000000000005"/><circle cx="714.42" cy="474.30" r="6.6000000000000005"/><circle cx="747.08" cy="474.30" r="6.6000000000000005"/><circle cx="763.40" cy="474.30" r="6.6000000000000005"/><circle cx="812.39" cy="474.30" r="6.6000000000000005"/><circle cx="828.72" cy="474.30" r="6.6000000000000005"/><circle cx="714.42" cy="489.64" r="6.6000000000000005"/><circle cx="747.08" cy="489.64" r="6.6000000000000005"/><circle cx="796.06" cy="489.64" r="6.6000000000000005"/><circle cx="828.72" cy="489.64" r="6.6000000000000005"/><circle cx="877.71" cy="489.64" r="6.6000000000000005"/><circle cx="959.36" cy="489.64" r="6.6000000000000005"/><circle cx="714.42" cy="504.99" r="6.6000000000000005"/><circle cx="730.75" cy="504.99" r="6.6000000000000005"/><circle cx="747.08" cy="504.99" r="6.6000000000000005"/><circle cx="812.39" cy="504.99" r="6.6000000000000005"/><circle cx="828.72" cy="504.99" r="6.6000000000000005"/><circle cx="845.05" cy="504.99" r="6.6000000000000005"/><circle cx="877.71" cy="504.99" r="6.6000000000000005"/><circle cx="959.36" cy="504.99" r="6.6000000000000005"/><circle cx="730.75" cy="520.34" r="6.6000000000000005"/><circle cx="747.08" cy="520.34" r="6.6000000000000005"/><circle cx="763.40" cy="520.34" r="6.6000000000000005"/><circle cx="812.39" cy="520.34" r="6.6000000000000005"/><circle cx="828.72" cy="520.34" r="6.6000000000000005"/><circle cx="845.05" cy="520.34" r="6.6000000000000005"/><circle cx="861.38" cy="520.34" r="6.6000000000000005"/><circle cx="877.71" cy="520.34" r="6.6000000000000005"/><circle cx="894.04" cy="520.34" r="6.6000000000000005"/><circle cx="910.37" cy="520.34" r="6.6000000000000005"/><circle cx="926.70" cy="520.34" r="6.6000000000000005"/><circle cx="943.03" cy="520.34" r="6.6000000000000005"/><circle cx="959.36" cy="520.34" r="6.6000000000000005"/><circle cx="698.09" cy="535.69" r="6.6000000000000005"/><circle cx="714.42" cy="535.69" r="6.6000000000000005"/><circle cx="730.75" cy="535.69" r="6.6000000000000005"/><circle cx="747.08" cy="535.69" r="6.6000000000000005"/><circle cx="763.40" cy="535.69" r="6.6000000000000005"/><circle cx="796.06" cy="535.69" r="6.6000000000000005"/><circle cx="828.72" cy="535.69" r="6.6000000000000005"/><circle cx="845.05" cy="535.69" r="6.6000000000000005"/><circle cx="861.38" cy="535.69" r="6.6000000000000005"/><circle cx="877.71" cy="535.69" r="6.6000000000000005"/><circle cx="959.36" cy="535.69" r="6.6000000000000005"/><circle cx="698.09" cy="551.04" r="6.6000000000000005"/><circle cx="714.42" cy="551.04" r="6.6000000000000005"/><circle cx="730.75" cy="551.04" r="6.6000000000000005"/><circle cx="747.08" cy="551.04" r="6.6000000000000005"/><circle cx="763.40" cy="551.04" r="6.6000000000000005"/><circle cx="828.72" cy="551.04" r="6.6000000000000005"/><circle cx="877.71" cy="551.04" r="6.6000000000000005"/><circle cx="910.37" cy="551.04" r="6.6000000000000005"/><circle cx="926.70" cy="551.04" r="6.6000000000000005"/><circle cx="959.36" cy="551.04" r="6.6000000000000005"/><circle cx="698.09" cy="566.39" r="6.6000000000000005"/><circle cx="714.42" cy="566.39" r="6.6000000000000005"/><circle cx="730.75" cy="566.39" r="6.6000000000000005"/><circle cx="747.08" cy="566.39" r="6.6000000000000005"/><circle cx="763.40" cy="566.39" r="6.6000000000000005"/><circle cx="828.72" cy="566.39" r="6.6000000000000005"/><circle cx="877.71" cy="566.39" r="6.6000000000000005"/><circle cx="910.37" cy="566.39" r="6.6000000000000005"/><circle cx="926.70" cy="566.39" r="6.6000000000000005"/><circle cx="959.36" cy="566.39" r="6.6000000000000005"/><circle cx="698.09" cy="581.74" r="6.6000000000000005"/><circle cx="714.42" cy="581.74" r="6.6000000000000005"/><circle cx="730.75" cy="581.74" r="6.6000000000000005"/><circle cx="747.08" cy="581.74" r="6.6000000000000005"/><circle cx="763.40" cy="581.74" r="6.6000000000000005"/><circle cx="828.72" cy="581.74" r="6.6000000000000005"/><circle cx="845.05" cy="581.74" r="6.6000000000000005"/><circle cx="861.38" cy="581.74" r="6.6000000000000005"/><circle cx="877.71" cy="581.74" r="6.6000000000000005"/><circle cx="910.37" cy="581.74" r="6.6000000000000005"/><circle cx="926.70" cy="581.74" r="6.6000000000000005"/><circle cx="959.36" cy="581.74" r="6.6000000000000005"/><circle cx="698.09" cy="597.09" r="6.6000000000000005"/><circle cx="730.75" cy="597.09" r="6.6000000000000005"/><circle cx="747.08" cy="597.09" r="6.6000000000000005"/><circle cx="763.40" cy="597.09" r="6.6000000000000005"/><circle cx="796.06" cy="597.09" r="6.6000000000000005"/><circle cx="812.39" cy="597.09" r="6.6000000000000005"/><circle cx="828.72" cy="597.09" r="6.6000000000000005"/><circle cx="877.71" cy="597.09" r="6.6000000000000005"/><circle cx="698.09" cy="612.44" r="6.6000000000000005"/><circle cx="714.42" cy="612.44" r="6.6000000000000005"/><circle cx="730.75" cy="612.44" r="6.6000000000000005"/><circle cx="747.08" cy="612.44" r="6.6000000000000005"/><circle cx="763.40" cy="612.44" r="6.6000000000000005"/><circle cx="796.06" cy="612.44" r="6.6000000000000005"/><circle cx="812.39" cy="612.44" r="6.6000000000000005"/><circle cx="828.72" cy="612.44" r="6.6000000000000005"/><circle cx="845.05" cy="612.44" r="6.6000000000000005"/><circle cx="877.71" cy="612.44" r="6.6000000000000005"/><circle cx="959.36" cy="612.44" r="6.6000000000000005"/><circle cx="698.09" cy="627.78" r="6.6000000000000005"/><circle cx="730.75" cy="627.78" r="6.6000000000000005"/><circle cx="747.08" cy="627.78" r="6.6000000000000005"/><circle cx="763.40" cy="627.78" r="6.6000000000000005"/><circle cx="828.72" cy="627.78" r="6.6000000000000005"/><circle cx="877.71" cy="627.78" r="6.6000000000000005"/><circle cx="698.09" cy="643.13" r="6.6000000000000005"/><circle cx="714.42" cy="643.13" r="6.6000000000000005"/><circle cx="730.75" cy="643.13" r="6.6000000000000005"/><circle cx="747.08" cy="643.13" r="6.6000000000000005"/><circle cx="763.40" cy="643.13" r="6.6000000000000005"/><circle cx="796.06" cy="643.13" r="6.6000000000000005"/><circle cx="812.39" cy="643.13" r="6.6000000000000005"/><circle cx="828.72" cy="643.13" r="6.6000000000000005"/><circle cx="845.05" cy="643.13" r="6.6000000000000005"/><circle cx="861.38" cy="643.13" r="6.6000000000000005"/><circle cx="877.71" cy="643.13" r="6.6000000000000005"/><circle cx="943.03" cy="643.13" r="6.6000000000000005"/><circle cx="959.36" cy="643.13" r="6.6000000000000005"/><circle cx="698.09" cy="658.48" r="6.6000000000000005"/><circle cx="714.42" cy="658.48" r="6.6000000000000005"/><circle cx="730.75" cy="658.48" r="6.6000000000000005"/><circle cx="747.08" cy="658.48" r="6.6000000000000005"/><circle cx="763.40" cy="658.48" r="6.6000000000000005"/><circle cx="796.06" cy="658.48" r="6.6000000000000005"/><circle cx="828.72" cy="658.48" r="6.6000000000000005"/><circle cx="845.05" cy="658.48" r="6.6000000000000005"/><circle cx="861.38" cy="658.48" r="6.6000000000000005"/><circle cx="877.71" cy="658.48" r="6.6000000000000005"/><circle cx="894.04" cy="658.48" r="6.6000000000000005"/><circle cx="910.37" cy="658.48" r="6.6000000000000005"/><circle cx="926.70" cy="658.48" r="6.6000000000000005"/><circle cx="943.03" cy="658.48" r="6.6000000000000005"/><circle cx="959.36" cy="658.48" r="6.6000000000000005"/><circle cx="714.42" cy="673.83" r="6.6000000000000005"/><circle cx="747.08" cy="673.83" r="6.6000000000000005"/><circle cx="812.39" cy="673.83" r="6.6000000000000005"/><circle cx="828.72" cy="673.83" r="6.6000000000000005"/><circle cx="714.42" cy="689.18" r="6.6000000000000005"/><circle cx="730.75" cy="689.18" r="6.6000000000000005"/><circle cx="747.08" cy="689.18" r="6.6000000000000005"/><circle cx="763.40" cy="689.18" r="6.6000000000000005"/><circle cx="812.39" cy="689.18" r="6.6000000000000005"/><circle cx="828.72" cy="689.18" r="6.6000000000000005"/><circle cx="877.71" cy="689.18" r="6.6000000000000005"/><circle cx="714.42" cy="704.53" r="6.6000000000000005"/><circle cx="730.75" cy="704.53" r="6.6000000000000005"/><circle cx="747.08" cy="704.53" r="6.6000000000000005"/><circle cx="812.39" cy="704.53" r="6.6000000000000005"/><circle cx="828.72" cy="704.53" r="6.6000000000000005"/><circle cx="845.05" cy="704.53" r="6.6000000000000005"/><circle cx="877.71" cy="704.53" r="6.6000000000000005"/><circle cx="714.42" cy="719.88" r="6.6000000000000005"/><circle cx="730.75" cy="719.88" r="6.6000000000000005"/><circle cx="747.08" cy="719.88" r="6.6000000000000005"/><circle cx="763.40" cy="719.88" r="6.6000000000000005"/><circle cx="812.39" cy="719.88" r="6.6000000000000005"/><circle cx="828.72" cy="719.88" r="6.6000000000000005"/><circle cx="877.71" cy="719.88" r="6.6000000000000005"/><circle cx="714.42" cy="735.23" r="6.6000000000000005"/><circle cx="730.75" cy="735.23" r="6.6000000000000005"/><circle cx="747.08" cy="735.23" r="6.6000000000000005"/><circle cx="763.40" cy="735.23" r="6.6000000000000005"/><circle cx="877.71" cy="735.23" r="6.6000000000000005"/><circle cx="714.42" cy="750.58" r="6.6000000000000005"/><circle cx="730.75" cy="750.58" r="6.6000000000000005"/><circle cx="763.40" cy="750.58" r="6.6000000000000005"/><circle cx="828.72" cy="750.58" r="6.6000000000000005"/><circle cx="845.05" cy="750.58" r="6.6000000000000005"/><circle cx="877.71" cy="750.58" r="6.6000000000000005"/><circle cx="943.03" cy="750.58" r="6.6000000000000005"/><circle cx="714.42" cy="765.92" r="6.6000000000000005"/><circle cx="730.75" cy="765.92" r="6.6000000000000005"/><circle cx="763.40" cy="765.92" r="6.6000000000000005"/><circle cx="828.72" cy="765.92" r="6.6000000000000005"/><circle cx="877.71" cy="765.92" r="6.6000000000000005"/><circle cx="943.03" cy="765.92" r="6.6000000000000005"/><circle cx="959.36" cy="765.92" r="6.6000000000000005"/><circle cx="714.42" cy="781.27" r="6.6000000000000005"/><circle cx="730.75" cy="781.27" r="6.6000000000000005"/><circle cx="747.08" cy="781.27" r="6.6000000000000005"/><circle cx="763.40" cy="781.27" r="6.6000000000000005"/><circle cx="812.39" cy="781.27" r="6.6000000000000005"/><circle cx="828.72" cy="781.27" r="6.6000000000000005"/><circle cx="877.71" cy="781.27" r="6.6000000000000005"/><circle cx="959.36" cy="781.27" r="6.6000000000000005"/><circle cx="714.42" cy="796.62" r="6.6000000000000005"/><circle cx="747.08" cy="796.62" r="6.6000000000000005"/><circle cx="796.06" cy="796.62" r="6.6000000000000005"/><circle cx="812.39" cy="796.62" r="6.6000000000000005"/><circle cx="828.72" cy="796.62" r="6.6000000000000005"/><circle cx="714.42" cy="811.97" r="6.6000000000000005"/><circle cx="730.75" cy="811.97" r="6.6000000000000005"/><circle cx="747.08" cy="811.97" r="6.6000000000000005"/><circle cx="763.40" cy="811.97" r="6.6000000000000005"/><circle cx="828.72" cy="811.97" r="6.6000000000000005"/><circle cx="845.05" cy="811.97" r="6.6000000000000005"/><circle cx="877.71" cy="811.97" r="6.6000000000000005"/><circle cx="959.36" cy="811.97" r="6.6000000000000005"/><circle cx="714.42" cy="827.32" r="6.6000000000000005"/><circle cx="730.75" cy="827.32" r="6.6000000000000005"/><circle cx="747.08" cy="827.32" r="6.6000000000000005"/><circle cx="763.40" cy="827.32" r="6.6000000000000005"/><circle cx="796.06" cy="827.32" r="6.6000000000000005"/><circle cx="828.72" cy="827.32" r="6.6000000000000005"/><circle cx="877.71" cy="827.32" r="6.6000000000000005"/><circle cx="714.42" cy="842.67" r="6.6000000000000005"/><circle cx="730.75" cy="842.67" r="6.6000000000000005"/><circle cx="747.08" cy="842.67" r="6.6000000000000005"/><circle cx="763.40" cy="842.67" r="6.6000000000000005"/><circle cx="828.72" cy="842.67" r="6.6000000000000005"/><circle cx="845.05" cy="842.67" r="6.6000000000000005"/><circle cx="877.71" cy="842.67" r="6.6000000000000005"/><circle cx="910.37" cy="842.67" r="6.6000000000000005"/><circle cx="926.70" cy="842.67" r="6.6000000000000005"/><circle cx="959.36" cy="842.67" r="6.6000000000000005"/><circle cx="698.09" cy="858.02" r="6.6000000000000005"/><circle cx="714.42" cy="858.02" r="6.6000000000000005"/><circle cx="730.75" cy="858.02" r="6.6000000000000005"/><circle cx="747.08" cy="858.02" r="6.6000000000000005"/><circle cx="763.40" cy="858.02" r="6.6000000000000005"/><circle cx="812.39" cy="858.02" r="6.6000000000000005"/><circle cx="828.72" cy="858.02" r="6.6000000000000005"/><circle cx="877.71" cy="858.02" r="6.6000000000000005"/><circle cx="959.36" cy="858.02" r="6.6000000000000005"/><circle cx="714.42" cy="873.37" r="6.6000000000000005"/><circle cx="730.75" cy="873.37" r="6.6000000000000005"/><circle cx="747.08" cy="873.37" r="6.6000000000000005"/><circle cx="812.39" cy="873.37" r="6.6000000000000005"/><circle cx="828.72" cy="873.37" r="6.6000000000000005"/><circle cx="877.71" cy="873.37" r="6.6000000000000005"/><circle cx="714.42" cy="888.71" r="6.6000000000000005"/><circle cx="730.75" cy="888.71" r="6.6000000000000005"/><circle cx="747.08" cy="888.71" r="6.6000000000000005"/><circle cx="763.40" cy="888.71" r="6.6000000000000005"/><circle cx="812.39" cy="888.71" r="6.6000000000000005"/><circle cx="828.72" cy="888.71" r="6.6000000000000005"/><circle cx="845.05" cy="888.71" r="6.6000000000000005"/><circle cx="861.38" cy="888.71" r="6.6000000000000005"/><circle cx="877.71" cy="888.71" r="6.6000000000000005"/><circle cx="894.04" cy="888.71" r="6.6000000000000005"/><circle cx="910.37" cy="888.71" r="6.6000000000000005"/><circle cx="926.70" cy="888.71" r="6.6000000000000005"/><circle cx="943.03" cy="888.71" r="6.6000000000000005"/><circle cx="959.36" cy="888.71" r="6.6000000000000005"/><circle cx="714.42" cy="904.06" r="6.6000000000000005"/><circle cx="730.75" cy="904.06" r="6.6000000000000005"/><circle cx="747.08" cy="904.06" r="6.6000000000000005"/><circle cx="812.39" cy="904.06" r="6.6000000000000005"/><circle cx="828.72" cy="904.06" r="6.6000000000000005"/><circle cx="877.71" cy="904.06" r="6.6000000000000005"/><circle cx="698.09" cy="919.41" r="6.6000000000000005"/><circle cx="714.42" cy="919.41" r="6.6000000000000005"/><circle cx="747.08" cy="919.41" r="6.6000000000000005"/><circle cx="828.72" cy="919.41" r="6.6000000000000005"/><circle cx="877.71" cy="919.41" r="6.6000000000000005"/><circle cx="698.09" cy="934.76" r="6.6000000000000005"/><circle cx="730.75" cy="934.76" r="6.6000000000000005"/><circle cx="763.40" cy="934.76" r="6.6000000000000005"/><circle cx="828.72" cy="934.76" r="6.6000000000000005"/><circle cx="845.05" cy="934.76" r="6.6000000000000005"/><circle cx="861.38" cy="934.76" r="6.6000000000000005"/><circle cx="877.71" cy="934.76" r="6.6000000000000005"/><circle cx="959.36" cy="934.76" r="6.6000000000000005"/><circle cx="698.09" cy="950.11" r="6.6000000000000005"/><circle cx="730.75" cy="950.11" r="6.6000000000000005"/><circle cx="747.08" cy="950.11" r="6.6000000000000005"/><circle cx="763.40" cy="950.11" r="6.6000000000000005"/><circle cx="812.39" cy="950.11" r="6.6000000000000005"/><circle cx="828.72" cy="950.11" r="6.6000000000000005"/><circle cx="845.05" cy="950.11" r="6.6000000000000005"/><circle cx="861.38" cy="950.11" r="6.6000000000000005"/><circle cx="877.71" cy="950.11" r="6.6000000000000005"/><circle cx="698.09" cy="965.46" r="6.6000000000000005"/><circle cx="714.42" cy="965.46" r="6.6000000000000005"/><circle cx="730.75" cy="965.46" r="6.6000000000000005"/><circle cx="747.08" cy="965.46" r="6.6000000000000005"/><circle cx="763.40" cy="965.46" r="6.6000000000000005"/><circle cx="796.06" cy="965.46" r="6.6000000000000005"/><circle cx="812.39" cy="965.46" r="6.6000000000000005"/><circle cx="828.72" cy="965.46" r="6.6000000000000005"/><circle cx="845.05" cy="965.46" r="6.6000000000000005"/><circle cx="861.38" cy="965.46" r="6.6000000000000005"/><circle cx="877.71" cy="965.46" r="6.6000000000000005"/><circle cx="910.37" cy="965.46" r="6.6000000000000005"/><circle cx="926.70" cy="965.46" r="6.6000000000000005"/><circle cx="959.36" cy="965.46" r="6.6000000000000005"/><circle cx="698.09" cy="980.81" r="6.6000000000000005"/><circle cx="730.75" cy="980.81" r="6.6000000000000005"/><circle cx="747.08" cy="980.81" r="6.6000000000000005"/><circle cx="763.40" cy="980.81" r="6.6000000000000005"/><circle cx="828.72" cy="980.81" r="6.6000000000000005"/><circle cx="845.05" cy="980.81" r="6.6000000000000005"/><circle cx="861.38" cy="980.81" r="6.6000000000000005"/><circle cx="877.71" cy="980.81" r="6.6000000000000005"/><circle cx="894.04" cy="980.81" r="6.6000000000000005"/><circle cx="910.37" cy="980.81" r="6.6000000000000005"/><circle cx="926.70" cy="980.81" r="6.6000000000000005"/><circle cx="943.03" cy="980.81" r="6.6000000000000005"/><circle cx="959.36" cy="980.81" r="6.6000000000000005"/><circle cx="698.09" cy="996.16" r="6.6000000000000005"/><circle cx="714.42" cy="996.16" r="6.6000000000000005"/><circle cx="730.75" cy="996.16" r="6.6000000000000005"/><circle cx="763.40" cy="996.16" r="6.6000000000000005"/><circle cx="796.06" cy="996.16" r="6.6000000000000005"/><circle cx="828.72" cy="996.16" r="6.6000000000000005"/><circle cx="845.05" cy="996.16" r="6.6000000000000005"/><circle cx="861.38" cy="996.16" r="6.6000000000000005"/><circle cx="877.71" cy="996.16" r="6.6000000000000005"/><circle cx="910.37" cy="996.16" r="6.6000000000000005"/><circle cx="926.70" cy="996.16" r="6.6000000000000005"/><circle cx="959.36" cy="996.16" r="6.6000000000000005"/><circle cx="698.09" cy="1011.51" r="6.6000000000000005"/><circle cx="714.42" cy="1011.51" r="6.6000000000000005"/><circle cx="730.75" cy="1011.51" r="6.6000000000000005"/><circle cx="747.08" cy="1011.51" r="6.6000000000000005"/><circle cx="763.40" cy="1011.51" r="6.6000000000000005"/><circle cx="812.39" cy="1011.51" r="6.6000000000000005"/><circle cx="828.72" cy="1011.51" r="6.6000000000000005"/><circle cx="845.05" cy="1011.51" r="6.6000000000000005"/><circle cx="861.38" cy="1011.51" r="6.6000000000000005"/><circle cx="877.71" cy="1011.51" r="6.6000000000000005"/><circle cx="714.42" cy="1026.85" r="6.6000000000000005"/><circle cx="730.75" cy="1026.85" r="6.6000000000000005"/><circle cx="747.08" cy="1026.85" r="6.6000000000000005"/><circle cx="828.72" cy="1026.85" r="6.6000000000000005"/><circle cx="845.05" cy="1026.85" r="6.6000000000000005"/><circle cx="861.38" cy="1026.85" r="6.6000000000000005"/><circle cx="877.71" cy="1026.85" r="6.6000000000000005"/><circle cx="714.42" cy="1042.20" r="6.6000000000000005"/><circle cx="730.75" cy="1042.20" r="6.6000000000000005"/><circle cx="747.08" cy="1042.20" r="6.6000000000000005"/><circle cx="763.40" cy="1042.20" r="6.6000000000000005"/><circle cx="812.39" cy="1042.20" r="6.6000000000000005"/><circle cx="828.72" cy="1042.20" r="6.6000000000000005"/><circle cx="845.05" cy="1042.20" r="6.6000000000000005"/><circle cx="861.38" cy="1042.20" r="6.6000000000000005"/><circle cx="877.71" cy="1042.20" r="6.6000000000000005"/><circle cx="910.37" cy="1042.20" r="6.6000000000000005"/><circle cx="926.70" cy="1042.20" r="6.6000000000000005"/><circle cx="959.36" cy="1042.20" r="6.6000000000000005"/><circle cx="698.09" cy="1057.55" r="6.6000000000000005"/><circle cx="730.75" cy="1057.55" r="6.6000000000000005"/><circle cx="747.08" cy="1057.55" r="6.6000000000000005"/><circle cx="763.40" cy="1057.55" r="6.6000000000000005"/><circle cx="828.72" cy="1057.55" r="6.6000000000000005"/><circle cx="877.71" cy="1057.55" r="6.6000000000000005"/><circle cx="959.36" cy="1057.55" r="6.6000000000000005"/><circle cx="698.09" cy="1072.90" r="6.6000000000000005"/><circle cx="714.42" cy="1072.90" r="6.6000000000000005"/><circle cx="730.75" cy="1072.90" r="6.6000000000000005"/><circle cx="747.08" cy="1072.90" r="6.6000000000000005"/><circle cx="763.40" cy="1072.90" r="6.6000000000000005"/><circle cx="812.39" cy="1072.90" r="6.6000000000000005"/><circle cx="877.71" cy="1072.90" r="6.6000000000000005"/><circle cx="714.42" cy="1088.25" r="6.6000000000000005"/><circle cx="730.75" cy="1088.25" r="6.6000000000000005"/><circle cx="747.08" cy="1088.25" r="6.6000000000000005"/><circle cx="763.40" cy="1088.25" r="6.6000000000000005"/><circle cx="812.39" cy="1088.25" r="6.6000000000000005"/><circle cx="845.05" cy="1088.25" r="6.6000000000000005"/><circle cx="861.38" cy="1088.25" r="6.6000000000000005"/><circle cx="877.71" cy="1088.25" r="6.6000000000000005"/><circle cx="894.04" cy="1088.25" r="6.6000000000000005"/><circle cx="910.37" cy="1088.25" r="6.6000000000000005"/><circle cx="926.70" cy="1088.25" r="6.6000000000000005"/><circle cx="943.03" cy="1088.25" r="6.6000000000000005"/><circle cx="959.36" cy="1088.25" r="6.6000000000000005"/></g>
<g fill="#f0e616"><circle cx="992.02" cy="412.90" r="6.9"/><circle cx="1008.34" cy="412.90" r="6.9"/><circle cx="1041.00" cy="412.90" r="6.9"/><circle cx="992.02" cy="428.25" r="6.9"/><circle cx="1041.00" cy="428.25" r="6.9"/><circle cx="992.02" cy="443.60" r="6.9"/><circle cx="1041.00" cy="443.60" r="6.9"/><circle cx="1057.33" cy="443.60" r="6.9"/><circle cx="1008.34" cy="458.95" r="6.9"/><circle cx="1041.00" cy="458.95" r="6.9"/><circle cx="992.02" cy="474.30" r="6.9"/><circle cx="1008.34" cy="474.30" r="6.9"/><circle cx="1041.00" cy="474.30" r="6.9"/><circle cx="992.02" cy="489.64" r="6.9"/><circle cx="1008.34" cy="489.64" r="6.9"/><circle cx="1041.00" cy="489.64" r="6.9"/><circle cx="1008.34" cy="504.99" r="6.9"/><circle cx="1041.00" cy="504.99" r="6.9"/><circle cx="1008.34" cy="520.34" r="6.9"/><circle cx="1041.00" cy="520.34" r="6.9"/><circle cx="1041.00" cy="535.69" r="6.9"/><circle cx="975.69" cy="551.04" r="6.9"/><circle cx="992.02" cy="551.04" r="6.9"/><circle cx="1008.34" cy="551.04" r="6.9"/><circle cx="1057.33" cy="551.04" r="6.9"/><circle cx="975.69" cy="566.39" r="6.9"/><circle cx="992.02" cy="581.74" r="6.9"/><circle cx="1041.00" cy="581.74" r="6.9"/><circle cx="992.02" cy="597.09" r="6.9"/><circle cx="1041.00" cy="597.09" r="6.9"/><circle cx="992.02" cy="612.44" r="6.9"/><circle cx="1008.34" cy="612.44" r="6.9"/><circle cx="975.69" cy="627.78" r="6.9"/><circle cx="992.02" cy="627.78" r="6.9"/><circle cx="1008.34" cy="627.78" r="6.9"/><circle cx="1041.00" cy="627.78" r="6.9"/><circle cx="1057.33" cy="627.78" r="6.9"/><circle cx="975.69" cy="643.13" r="6.9"/><circle cx="992.02" cy="658.48" r="6.9"/><circle cx="992.02" cy="673.83" r="6.9"/><circle cx="1041.00" cy="673.83" r="6.9"/><circle cx="992.02" cy="689.18" r="6.9"/><circle cx="1041.00" cy="689.18" r="6.9"/><circle cx="992.02" cy="704.53" r="6.9"/><circle cx="1008.34" cy="704.53" r="6.9"/><circle cx="1041.00" cy="704.53" r="6.9"/><circle cx="992.02" cy="719.88" r="6.9"/><circle cx="1008.34" cy="719.88" r="6.9"/><circle cx="1041.00" cy="719.88" r="6.9"/><circle cx="992.02" cy="735.23" r="6.9"/><circle cx="1008.34" cy="735.23" r="6.9"/><circle cx="1024.67" cy="735.23" r="6.9"/><circle cx="1041.00" cy="735.23" r="6.9"/><circle cx="1008.34" cy="750.58" r="6.9"/><circle cx="1041.00" cy="750.58" r="6.9"/><circle cx="992.02" cy="765.92" r="6.9"/><circle cx="1008.34" cy="765.92" r="6.9"/><circle cx="1041.00" cy="765.92" r="6.9"/><circle cx="992.02" cy="796.62" r="6.9"/><circle cx="1041.00" cy="796.62" r="6.9"/><circle cx="1057.33" cy="796.62" r="6.9"/><circle cx="992.02" cy="811.97" r="6.9"/><circle cx="1008.34" cy="811.97" r="6.9"/><circle cx="1024.67" cy="811.97" r="6.9"/><circle cx="1041.00" cy="811.97" r="6.9"/><circle cx="992.02" cy="827.32" r="6.9"/><circle cx="1008.34" cy="827.32" r="6.9"/><circle cx="1041.00" cy="827.32" r="6.9"/><circle cx="992.02" cy="842.67" r="6.9"/><circle cx="1008.34" cy="842.67" r="6.9"/><circle cx="1041.00" cy="842.67" r="6.9"/><circle cx="1057.33" cy="842.67" r="6.9"/><circle cx="992.02" cy="858.02" r="6.9"/><circle cx="1008.34" cy="873.37" r="6.9"/><circle cx="1041.00" cy="873.37" r="6.9"/><circle cx="1008.34" cy="888.71" r="6.9"/><circle cx="1041.00" cy="888.71" r="6.9"/><circle cx="992.02" cy="904.06" r="6.9"/><circle cx="1008.34" cy="904.06" r="6.9"/><circle cx="992.02" cy="919.41" r="6.9"/><circle cx="992.02" cy="934.76" r="6.9"/><circle cx="1024.67" cy="934.76" r="6.9"/><circle cx="1041.00" cy="934.76" r="6.9"/><circle cx="975.69" cy="950.11" r="6.9"/><circle cx="992.02" cy="950.11" r="6.9"/><circle cx="1008.34" cy="950.11" r="6.9"/><circle cx="1024.67" cy="950.11" r="6.9"/><circle cx="1041.00" cy="950.11" r="6.9"/><circle cx="992.02" cy="965.46" r="6.9"/><circle cx="1041.00" cy="965.46" r="6.9"/><circle cx="992.02" cy="980.81" r="6.9"/><circle cx="1041.00" cy="980.81" r="6.9"/><circle cx="992.02" cy="996.16" r="6.9"/><circle cx="975.69" cy="1011.51" r="6.9"/><circle cx="992.02" cy="1011.51" r="6.9"/><circle cx="1008.34" cy="1011.51" r="6.9"/><circle cx="1024.67" cy="1011.51" r="6.9"/><circle cx="1041.00" cy="1011.51" r="6.9"/><circle cx="992.02" cy="1026.85" r="6.9"/><circle cx="1041.00" cy="1026.85" r="6.9"/><circle cx="1008.34" cy="1042.20" r="6.9"/><circle cx="1041.00" cy="1042.20" r="6.9"/><circle cx="975.69" cy="1057.55" r="6.9"/><circle cx="992.02" cy="1057.55" r="6.9"/><circle cx="1008.34" cy="1057.55" r="6.9"/><circle cx="1041.00" cy="1057.55" r="6.9"/><circle cx="1057.33" cy="1057.55" r="6.9"/><circle cx="1041.00" cy="1072.90" r="6.9"/></g>
<g fill="#fff" stroke="#e6e43a" stroke-width="0.8"><circle cx="975.69" cy="412.90" r="6.6000000000000005"/><circle cx="1024.67" cy="412.90" r="6.6000000000000005"/><circle cx="1057.33" cy="412.90" r="6.6000000000000005"/><circle cx="975.69" cy="428.25" r="6.6000000000000005"/><circle cx="1008.34" cy="428.25" r="6.6000000000000005"/><circle cx="1024.67" cy="428.25" r="6.6000000000000005"/><circle cx="1057.33" cy="428.25" r="6.6000000000000005"/><circle cx="975.69" cy="443.60" r="6.6000000000000005"/><circle cx="1008.34" cy="443.60" r="6.6000000000000005"/><circle cx="1024.67" cy="443.60" r="6.6000000000000005"/><circle cx="975.69" cy="458.95" r="6.6000000000000005"/><circle cx="992.02" cy="458.95" r="6.6000000000000005"/><circle cx="1024.67" cy="458.95" r="6.6000000000000005"/><circle cx="1057.33" cy="458.95" r="6.6000000000000005"/><circle cx="975.69" cy="474.30" r="6.6000000000000005"/><circle cx="1024.67" cy="474.30" r="6.6000000000000005"/><circle cx="1057.33" cy="474.30" r="6.6000000000000005"/><circle cx="975.69" cy="489.64" r="6.6000000000000005"/><circle cx="1024.67" cy="489.64" r="6.6000000000000005"/><circle cx="1057.33" cy="489.64" r="6.6000000000000005"/><circle cx="975.69" cy="504.99" r="6.6000000000000005"/><circle cx="992.02" cy="504.99" r="6.6000000000000005"/><circle cx="1024.67" cy="504.99" r="6.6000000000000005"/><circle cx="1057.33" cy="504.99" r="6.6000000000000005"/><circle cx="975.69" cy="520.34" r="6.6000000000000005"/><circle cx="992.02" cy="520.34" r="6.6000000000000005"/><circle cx="1024.67" cy="520.34" r="6.6000000000000005"/><circle cx="1057.33" cy="520.34" r="6.6000000000000005"/><circle cx="975.69" cy="535.69" r="6.6000000000000005"/><circle cx="992.02" cy="535.69" r="6.6000000000000005"/><circle cx="1008.34" cy="535.69" r="6.6000000000000005"/><circle cx="1024.67" cy="535.69" r="6.6000000000000005"/><circle cx="1057.33" cy="535.69" r="6.6000000000000005"/><circle cx="1024.67" cy="551.04" r="6.6000000000000005"/><circle cx="1041.00" cy="551.04" r="6.6000000000000005"/><circle cx="992.02" cy="566.39" r="6.6000000000000005"/><circle cx="1008.34" cy="566.39" r="6.6000000000000005"/><circle cx="1024.67" cy="566.39" r="6.6000000000000005"/><circle cx="1041.00" cy="566.39" r="6.6000000000000005"/><circle cx="1057.33" cy="566.39" r="6.6000000000000005"/><circle cx="975.69" cy="581.74" r="6.6000000000000005"/><circle cx="1008.34" cy="581.74" r="6.6000000000000005"/><circle cx="1024.67" cy="581.74" r="6.6000000000000005"/><circle cx="1057.33" cy="581.74" r="6.6000000000000005"/><circle cx="975.69" cy="597.09" r="6.6000000000000005"/><circle cx="1008.34" cy="597.09" r="6.6000000000000005"/><circle cx="1024.67" cy="597.09" r="6.6000000000000005"/><circle cx="1057.33" cy="597.09" r="6.6000000000000005"/><circle cx="975.69" cy="612.44" r="6.6000000000000005"/><circle cx="1024.67" cy="612.44" r="6.6000000000000005"/><circle cx="1041.00" cy="612.44" r="6.6000000000000005"/><circle cx="1057.33" cy="612.44" r="6.6000000000000005"/><circle cx="1024.67" cy="627.78" r="6.6000000000000005"/><circle cx="992.02" cy="643.13" r="6.6000000000000005"/><circle cx="1008.34" cy="643.13" r="6.6000000000000005"/><circle cx="1024.67" cy="643.13" r="6.6000000000000005"/><circle cx="1041.00" cy="643.13" r="6.6000000000000005"/><circle cx="1057.33" cy="643.13" r="6.6000000000000005"/><circle cx="975.69" cy="658.48" r="6.6000000000000005"/><circle cx="1008.34" cy="658.48" r="6.6000000000000005"/><circle cx="1024.67" cy="658.48" r="6.6000000000000005"/><circle cx="1041.00" cy="658.48" r="6.6000000000000005"/><circle cx="1057.33" cy="658.48" r="6.6000000000000005"/><circle cx="975.69" cy="673.83" r="6.6000000000000005"/><circle cx="1008.34" cy="673.83" r="6.6000000000000005"/><circle cx="1024.67" cy="673.83" r="6.6000000000000005"/><circle cx="1057.33" cy="673.83" r="6.6000000000000005"/><circle cx="975.69" cy="689.18" r="6.6000000000000005"/><circle cx="1008.34" cy="689.18" r="6.6000000000000005"/><circle cx="1024.67" cy="689.18" r="6.6000000000000005"/><circle cx="1057.33" cy="689.18" r="6.6000000000000005"/><circle cx="975.69" cy="704.53" r="6.6000000000000005"/><circle cx="1024.67" cy="704.53" r="6.6000000000000005"/><circle cx="1057.33" cy="704.53" r="6.6000000000000005"/><circle cx="975.69" cy="719.88" r="6.6000000000000005"/><circle cx="1024.67" cy="719.88" r="6.6000000000000005"/><circle cx="1057.33" cy="719.88" r="6.6000000000000005"/><circle cx="975.69" cy="735.23" r="6.6000000000000005"/><circle cx="1057.33" cy="735.23" r="6.6000000000000005"/><circle cx="975.69" cy="750.58" r="6.6000000000000005"/><circle cx="992.02" cy="750.58" r="6.6000000000000005"/><circle cx="1024.67" cy="750.58" r="6.6000000000000005"/><circle cx="1057.33" cy="750.58" r="6.6000000000000005"/><circle cx="975.69" cy="765.92" r="6.6000000000000005"/><circle cx="1024.67" cy="765.92" r="6.6000000000000005"/><circle cx="1057.33" cy="765.92" r="6.6000000000000005"/><circle cx="975.69" cy="781.27" r="6.6000000000000005"/><circle cx="992.02" cy="781.27" r="6.6000000000000005"/><circle cx="1008.34" cy="781.27" r="6.6000000000000005"/><circle cx="1024.67" cy="781.27" r="6.6000000000000005"/><circle cx="1041.00" cy="781.27" r="6.6000000000000005"/><circle cx="1057.33" cy="781.27" r="6.6000000000000005"/><circle cx="975.69" cy="796.62" r="6.6000000000000005"/><circle cx="1008.34" cy="796.62" r="6.6000000000000005"/><circle cx="1024.67" cy="796.62" r="6.6000000000000005"/><circle cx="975.69" cy="811.97" r="6.6000000000000005"/><circle cx="1057.33" cy="811.97" r="6.6000000000000005"/><circle cx="975.69" cy="827.32" r="6.6000000000000005"/><circle cx="1024.67" cy="827.32" r="6.6000000000000005"/><circle cx="1057.33" cy="827.32" r="6.6000000000000005"/><circle cx="975.69" cy="842.67" r="6.6000000000000005"/><circle cx="1024.67" cy="842.67" r="6.6000000000000005"/><circle cx="975.69" cy="858.02" r="6.6000000000000005"/><circle cx="1008.34" cy="858.02" r="6.6000000000000005"/><circle cx="1024.67" cy="858.02" r="6.6000000000000005"/><circle cx="1041.00" cy="858.02" r="6.6000000000000005"/><circle cx="1057.33" cy="858.02" r="6.6000000000000005"/><circle cx="975.69" cy="873.37" r="6.6000000000000005"/><circle cx="992.02" cy="873.37" r="6.6000000000000005"/><circle cx="1024.67" cy="873.37" r="6.6000000000000005"/><circle cx="1057.33" cy="873.37" r="6.6000000000000005"/><circle cx="975.69" cy="888.71" r="6.6000000000000005"/><circle cx="992.02" cy="888.71" r="6.6000000000000005"/><circle cx="1024.67" cy="888.71" r="6.6000000000000005"/><circle cx="1057.33" cy="888.71" r="6.6000000000000005"/><circle cx="975.69" cy="904.06" r="6.6000000000000005"/><circle cx="1024.67" cy="904.06" r="6.6000000000000005"/><circle cx="1041.00" cy="904.06" r="6.6000000000000005"/><circle cx="1057.33" cy="904.06" r="6.6000000000000005"/><circle cx="975.69" cy="919.41" r="6.6000000000000005"/><circle cx="1008.34" cy="919.41" r="6.6000000000000005"/><circle cx="1024.67" cy="919.41" r="6.6000000000000005"/><circle cx="1041.00" cy="919.41" r="6.6000000000000005"/><circle cx="1057.33" cy="919.41" r="6.6000000000000005"/><circle cx="975.69" cy="934.76" r="6.6000000000000005"/><circle cx="1008.34" cy="934.76" r="6.6000000000000005"/><circle cx="1057.33" cy="934.76" r="6.6000000000000005"/><circle cx="1057.33" cy="950.11" r="6.6000000000000005"/><circle cx="975.69" cy="965.46" r="6.6000000000000005"/><circle cx="1008.34" cy="965.46" r="6.6000000000000005"/><circle cx="1024.67" cy="965.46" r="6.6000000000000005"/><circle cx="1057.33" cy="965.46" r="6.6000000000000005"/><circle cx="975.69" cy="980.81" r="6.6000000000000005"/><circle cx="1008.34" cy="980.81" r="6.6000000000000005"/><circle cx="1024.67" cy="980.81" r="6.6000000000000005"/><circle cx="1057.33" cy="980.81" r="6.6000000000000005"/><circle cx="975.69" cy="996.16" r="6.6000000000000005"/><circle cx="1008.34" cy="996.16" r="6.6000000000000005"/><circle cx="1024.67" cy="996.16" r="6.6000000000000005"/><circle cx="1041.00" cy="996.16" r="6.6000000000000005"/><circle cx="1057.33" cy="996.16" r="6.6000000000000005"/><circle cx="1057.33" cy="1011.51" r="6.6000000000000005"/><circle cx="975.69" cy="1026.85" r="6.6000000000000005"/><circle cx="1008.34" cy="1026.85" r="6.6000000000000005"/><circle cx="1024.67" cy="1026.85" r="6.6000000000000005"/><circle cx="1057.33" cy="1026.85" r="6.6000000000000005"/><circle cx="975.69" cy="1042.20" r="6.6000000000000005"/><circle cx="992.02" cy="1042.20" r="6.6000000000000005"/><circle cx="1024.67" cy="1042.20" r="6.6000000000000005"/><circle cx="1057.33" cy="1042.20" r="6.6000000000000005"/><circle cx="1024.67" cy="1057.55" r="6.6000000000000005"/><circle cx="975.69" cy="1072.90" r="6.6000000000000005"/><circle cx="992.02" cy="1072.90" r="6.6000000000000005"/><circle cx="1008.34" cy="1072.90" r="6.6000000000000005"/><circle cx="1024.67" cy="1072.90" r="6.6000000000000005"/><circle cx="1057.33" cy="1072.90" r="6.6000000000000005"/><circle cx="975.69" cy="1088.25" r="6.6000000000000005"/><circle cx="992.02" cy="1088.25" r="6.6000000000000005"/><circle cx="1008.34" cy="1088.25" r="6.6000000000000005"/><circle cx="1024.67" cy="1088.25" r="6.6000000000000005"/><circle cx="1041.00" cy="1088.25" r="6.6000000000000005"/><circle cx="1057.33" cy="1088.25" r="6.6000000000000005"/></g>
<g fill="#4a1d96"><circle cx="1089.99" cy="412.90" r="6.9"/><circle cx="1089.99" cy="428.25" r="6.9"/><circle cx="1089.99" cy="443.60" r="6.9"/><circle cx="1089.99" cy="474.30" r="6.9"/><circle cx="1089.99" cy="489.64" r="6.9"/><circle cx="1089.99" cy="504.99" r="6.9"/><circle cx="1089.99" cy="535.69" r="6.9"/><circle cx="1089.99" cy="551.04" r="6.9"/><circle cx="1089.99" cy="566.39" r="6.9"/><circle cx="1089.99" cy="581.74" r="6.9"/><circle cx="1089.99" cy="597.09" r="6.9"/><circle cx="1089.99" cy="612.44" r="6.9"/><circle cx="1089.99" cy="627.78" r="6.9"/><circle cx="1089.99" cy="643.13" r="6.9"/><circle cx="1089.99" cy="673.83" r="6.9"/><circle cx="1089.99" cy="689.18" r="6.9"/><circle cx="1089.99" cy="750.58" r="6.9"/><circle cx="1089.99" cy="765.92" r="6.9"/><circle cx="1089.99" cy="781.27" r="6.9"/><circle cx="1089.99" cy="796.62" r="6.9"/><circle cx="1089.99" cy="827.32" r="6.9"/><circle cx="1089.99" cy="842.67" r="6.9"/><circle cx="1089.99" cy="873.37" r="6.9"/><circle cx="1089.99" cy="904.06" r="6.9"/><circle cx="1073.66" cy="919.41" r="6.9"/><circle cx="1089.99" cy="919.41" r="6.9"/><circle cx="1073.66" cy="934.76" r="6.9"/><circle cx="1089.99" cy="934.76" r="6.9"/><circle cx="1073.66" cy="950.11" r="6.9"/><circle cx="1089.99" cy="950.11" r="6.9"/><circle cx="1073.66" cy="965.46" r="6.9"/><circle cx="1089.99" cy="980.81" r="6.9"/><circle cx="1089.99" cy="996.16" r="6.9"/><circle cx="1073.66" cy="1011.51" r="6.9"/><circle cx="1089.99" cy="1011.51" r="6.9"/><circle cx="1073.66" cy="1026.85" r="6.9"/><circle cx="1073.66" cy="1042.20" r="6.9"/><circle cx="1089.99" cy="1057.55" r="6.9"/><circle cx="1073.66" cy="1072.90" r="6.9"/><circle cx="1089.99" cy="1072.90" r="6.9"/><circle cx="1073.66" cy="1088.25" r="6.9"/><circle cx="1089.99" cy="1088.25" r="6.9"/></g>
<g fill="#fff" stroke="#5346c2" stroke-width="0.8"><circle cx="1073.66" cy="412.90" r="6.6000000000000005"/><circle cx="1073.66" cy="428.25" r="6.6000000000000005"/><circle cx="1073.66" cy="443.60" r="6.6000000000000005"/><circle cx="1073.66" cy="458.95" r="6.6000000000000005"/><circle cx="1089.99" cy="458.95" r="6.6000000000000005"/><circle cx="1073.66" cy="474.30" r="6.6000000000000005"/><circle cx="1073.66" cy="489.64" r="6.6000000000000005"/><circle cx="1073.66" cy="504.99" r="6.6000000000000005"/><circle cx="1073.66" cy="520.34" r="6.6000000000000005"/><circle cx="1089.99" cy="520.34" r="6.6000000000000005"/><circle cx="1073.66" cy="535.69" r="6.6000000000000005"/><circle cx="1073.66" cy="551.04" r="6.6000000000000005"/><circle cx="1073.66" cy="566.39" r="6.6000000000000005"/><circle cx="1073.66" cy="581.74" r="6.6000000000000005"/><circle cx="1073.66" cy="597.09" r="6.6000000000000005"/><circle cx="1073.66" cy="612.44" r="6.6000000000000005"/><circle cx="1073.66" cy="627.78" r="6.6000000000000005"/><circle cx="1073.66" cy="643.13" r="6.6000000000000005"/><circle cx="1073.66" cy="658.48" r="6.6000000000000005"/><circle cx="1089.99" cy="658.48" r="6.6000000000000005"/><circle cx="1073.66" cy="673.83" r="6.6000000000000005"/><circle cx="1073.66" cy="689.18" r="6.6000000000000005"/><circle cx="1073.66" cy="704.53" r="6.6000000000000005"/><circle cx="1089.99" cy="704.53" r="6.6000000000000005"/><circle cx="1073.66" cy="719.88" r="6.6000000000000005"/><circle cx="1089.99" cy="719.88" r="6.6000000000000005"/><circle cx="1073.66" cy="735.23" r="6.6000000000000005"/><circle cx="1089.99" cy="735.23" r="6.6000000000000005"/><circle cx="1073.66" cy="750.58" r="6.6000000000000005"/><circle cx="1073.66" cy="765.92" r="6.6000000000000005"/><circle cx="1073.66" cy="781.27" r="6.6000000000000005"/><circle cx="1073.66" cy="796.62" r="6.6000000000000005"/><circle cx="1073.66" cy="811.97" r="6.6000000000000005"/><circle cx="1089.99" cy="811.97" r="6.6000000000000005"/><circle cx="1073.66" cy="827.32" r="6.6000000000000005"/><circle cx="1073.66" cy="842.67" r="6.6000000000000005"/><circle cx="1073.66" cy="858.02" r="6.6000000000000005"/><circle cx="1089.99" cy="858.02" r="6.6000000000000005"/><circle cx="1073.66" cy="873.37" r="6.6000000000000005"/><circle cx="1073.66" cy="888.71" r="6.6000000000000005"/><circle cx="1089.99" cy="888.71" r="6.6000000000000005"/><circle cx="1073.66" cy="904.06" r="6.6000000000000005"/><circle cx="1089.99" cy="965.46" r="6.6000000000000005"/><circle cx="1073.66" cy="980.81" r="6.6000000000000005"/><circle cx="1073.66" cy="996.16" r="6.6000000000000005"/><circle cx="1089.99" cy="1026.85" r="6.6000000000000005"/><circle cx="1089.99" cy="1042.20" r="6.6000000000000005"/><circle cx="1073.66" cy="1057.55" r="6.6000000000000005"/></g>
<g fill="#a87f8e"><circle cx="1106.32" cy="474.30" r="6.9"/><circle cx="1106.32" cy="551.04" r="6.9"/><circle cx="1106.32" cy="597.09" r="6.9"/><circle cx="1106.32" cy="719.88" r="6.9"/><circle cx="1122.65" cy="719.88" r="6.9"/><circle cx="1106.32" cy="873.37" r="6.9"/><circle cx="1122.65" cy="873.37" r="6.9"/><circle cx="1122.65" cy="1072.90" r="6.9"/></g>
<g fill="#fff" stroke="#9c8294" stroke-width="0.8"><circle cx="1106.32" cy="412.90" r="6.6000000000000005"/><circle cx="1122.65" cy="412.90" r="6.6000000000000005"/><circle cx="1106.32" cy="428.25" r="6.6000000000000005"/><circle cx="1122.65" cy="428.25" r="6.6000000000000005"/><circle cx="1106.32" cy="443.60" r="6.6000000000000005"/><circle cx="1122.65" cy="443.60" r="6.6000000000000005"/><circle cx="1106.32" cy="458.95" r="6.6000000000000005"/><circle cx="1122.65" cy="458.95" r="6.6000000000000005"/><circle cx="1122.65" cy="474.30" r="6.6000000000000005"/><circle cx="1106.32" cy="489.64" r="6.6000000000000005"/><circle cx="1122.65" cy="489.64" r="6.6000000000000005"/><circle cx="1106.32" cy="504.99" r="6.6000000000000005"/><circle cx="1122.65" cy="504.99" r="6.6000000000000005"/><circle cx="1106.32" cy="520.34" r="6.6000000000000005"/><circle cx="1122.65" cy="520.34" r="6.6000000000000005"/><circle cx="1106.32" cy="535.69" r="6.6000000000000005"/><circle cx="1122.65" cy="535.69" r="6.6000000000000005"/><circle cx="1122.65" cy="551.04" r="6.6000000000000005"/><circle cx="1106.32" cy="566.39" r="6.6000000000000005"/><circle cx="1122.65" cy="566.39" r="6.6000000000000005"/><circle cx="1106.32" cy="581.74" r="6.6000000000000005"/><circle cx="1122.65" cy="581.74" r="6.6000000000000005"/><circle cx="1122.65" cy="597.09" r="6.6000000000000005"/><circle cx="1106.32" cy="612.44" r="6.6000000000000005"/><circle cx="1122.65" cy="612.44" r="6.6000000000000005"/><circle cx="1106.32" cy="627.78" r="6.6000000000000005"/><circle cx="1122.65" cy="627.78" r="6.6000000000000005"/><circle cx="1106.32" cy="643.13" r="6.6000000000000005"/><circle cx="1122.65" cy="643.13" r="6.6000000000000005"/><circle cx="1106.32" cy="658.48" r="6.6000000000000005"/><circle cx="1122.65" cy="658.48" r="6.6000000000000005"/><circle cx="1106.32" cy="673.83" r="6.6000000000000005"/><circle cx="1122.65" cy="673.83" r="6.6000000000000005"/><circle cx="1106.32" cy="689.18" r="6.6000000000000005"/><circle cx="1122.65" cy="689.18" r="6.6000000000000005"/><circle cx="1106.32" cy="704.53" r="6.6000000000000005"/><circle cx="1122.65" cy="704.53" r="6.6000000000000005"/><circle cx="1106.32" cy="735.23" r="6.6000000000000005"/><circle cx="1122.65" cy="735.23" r="6.6000000000000005"/><circle cx="1106.32" cy="750.58" r="6.6000000000000005"/><circle cx="1122.65" cy="750.58" r="6.6000000000000005"/><circle cx="1106.32" cy="765.92" r="6.6000000000000005"/><circle cx="1122.65" cy="765.92" r="6.6000000000000005"/><circle cx="1106.32" cy="781.27" r="6.6000000000000005"/><circle cx="1122.65" cy="781.27" r="6.6000000000000005"/><circle cx="1106.32" cy="796.62" r="6.6000000000000005"/><circle cx="1122.65" cy="796.62" r="6.6000000000000005"/><circle cx="1106.32" cy="811.97" r="6.6000000000000005"/><circle cx="1122.65" cy="811.97" r="6.6000000000000005"/><circle cx="1106.32" cy="827.32" r="6.6000000000000005"/><circle cx="1122.65" cy="827.32" r="6.6000000000000005"/><circle cx="1106.32" cy="842.67" r="6.6000000000000005"/><circle cx="1122.65" cy="842.67" r="6.6000000000000005"/><circle cx="1106.32" cy="858.02" r="6.6000000000000005"/><circle cx="1122.65" cy="858.02" r="6.6000000000000005"/><circle cx="1106.32" cy="888.71" r="6.6000000000000005"/><circle cx="1122.65" cy="888.71" r="6.6000000000000005"/><circle cx="1106.32" cy="904.06" r="6.6000000000000005"/><circle cx="1122.65" cy="904.06" r="6.6000000000000005"/><circle cx="1106.32" cy="919.41" r="6.6000000000000005"/><circle cx="1122.65" cy="919.41" r="6.6000000000000005"/><circle cx="1106.32" cy="934.76" r="6.6000000000000005"/><circle cx="1122.65" cy="934.76" r="6.6000000000000005"/><circle cx="1106.32" cy="950.11" r="6.6000000000000005"/><circle cx="1122.65" cy="950.11" r="6.6000000000000005"/><circle cx="1106.32" cy="965.46" r="6.6000000000000005"/><circle cx="1122.65" cy="965.46" r="6.6000000000000005"/><circle cx="1106.32" cy="980.81" r="6.6000000000000005"/><circle cx="1122.65" cy="980.81" r="6.6000000000000005"/><circle cx="1106.32" cy="996.16" r="6.6000000000000005"/><circle cx="1122.65" cy="996.16" r="6.6000000000000005"/><circle cx="1106.32" cy="1011.51" r="6.6000000000000005"/><circle cx="1122.65" cy="1011.51" r="6.6000000000000005"/><circle cx="1106.32" cy="1026.85" r="6.6000000000000005"/><circle cx="1122.65" cy="1026.85" r="6.6000000000000005"/><circle cx="1106.32" cy="1042.20" r="6.6000000000000005"/><circle cx="1122.65" cy="1042.20" r="6.6000000000000005"/><circle cx="1106.32" cy="1057.55" r="6.6000000000000005"/><circle cx="1122.65" cy="1057.55" r="6.6000000000000005"/><circle cx="1106.32" cy="1072.90" r="6.6000000000000005"/><circle cx="1106.32" cy="1088.25" r="6.6000000000000005"/><circle cx="1122.65" cy="1088.25" r="6.6000000000000005"/></g>
</svg></body></html>
